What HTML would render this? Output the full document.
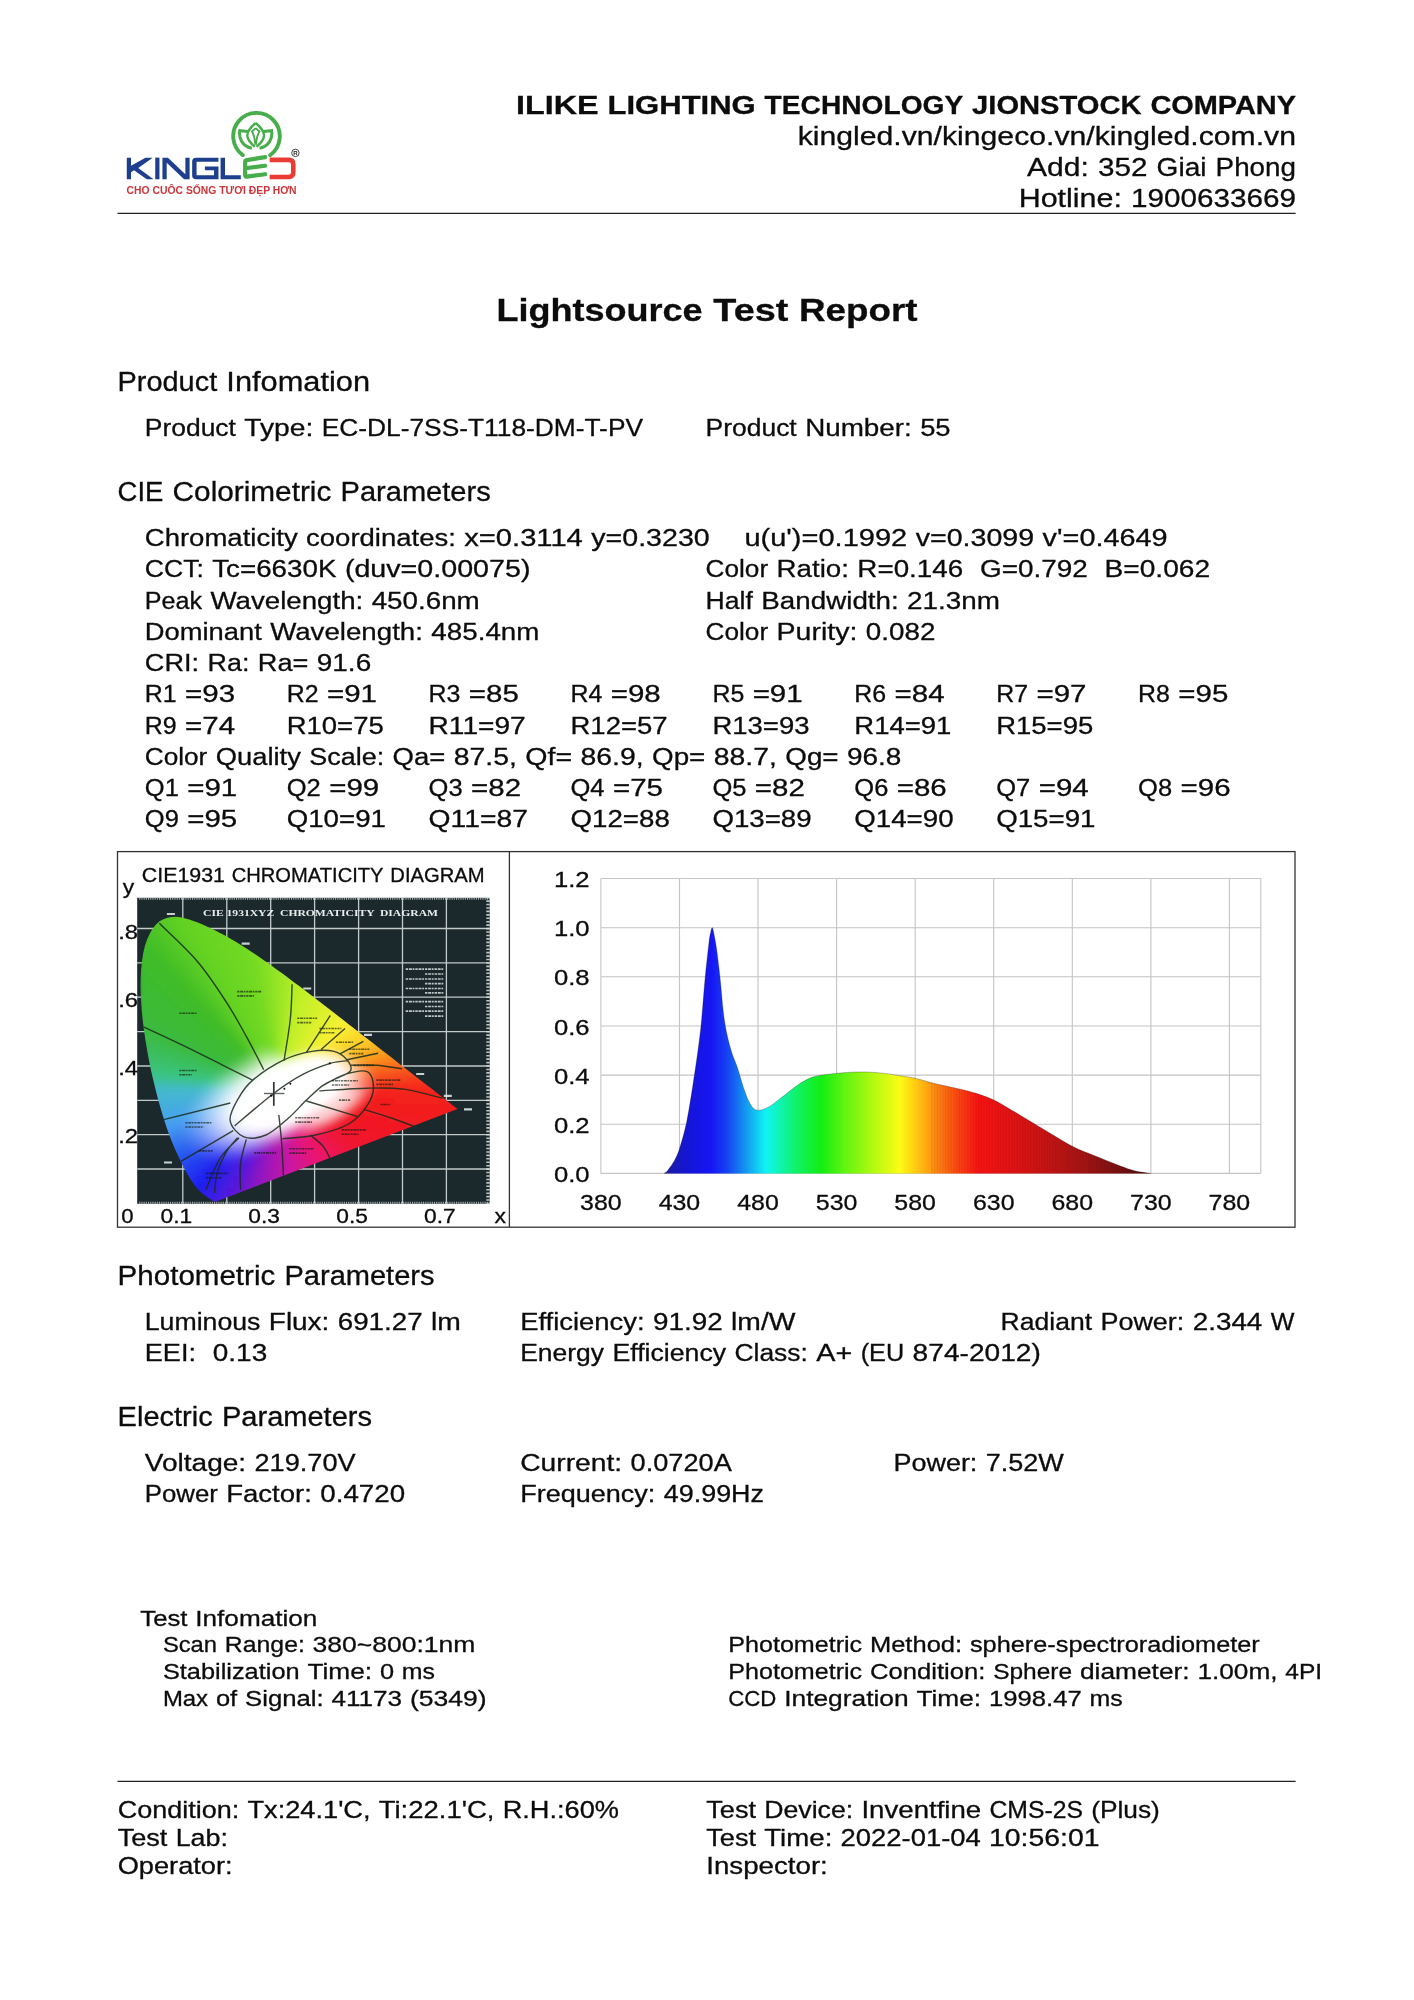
<!DOCTYPE html><html><head><meta charset="utf-8"><title>Lightsource Test Report</title><style>html,body{margin:0;padding:0;background:#fff}svg{display:block;will-change:transform}text{font-family:"Liberation Sans",sans-serif;stroke:#0c0c0c;stroke-width:.3px}</style></head><body>
<svg width="1414" height="2000" viewBox="0 0 1414 2000" fill="#0c0c0c">
<rect width="1414" height="2000" fill="#fff"/>
<polygon points="126.79,157.64 131.04,157.64 131.04,165.70 145.47,157.64 152.68,157.64 138.25,168.00 153.53,179.29 146.74,179.29 134.01,170.37 131.04,172.24 131.04,179.29 126.79,179.29" fill="#1d3f8e"/>
<polygon points="155.23,157.64 159.47,157.64 159.47,179.29 155.23,179.29" fill="#1d3f8e"/>
<polygon points="162.44,157.64 167.96,157.64 185.37,174.19 185.37,157.64 189.61,157.64 189.61,179.29 184.09,179.29 166.69,162.73 166.69,179.29 162.44,179.29" fill="#1d3f8e"/>
<polygon points="220.59,157.64 225.01,157.64 225.01,175.13 240.80,175.13 240.80,179.29 220.59,179.29" fill="#1d3f8e"/>
<path d="M218.47,157.64 L195.98,157.64 Q192.16,157.64 192.16,161.46 L192.16,175.47 Q192.16,179.29 195.98,179.29 L218.47,179.29 L218.47,166.55 L204.89,166.55 L204.89,170.37 L214.06,170.37 L214.06,175.30 L196.57,175.30 L196.57,161.63 L218.47,161.63 Z" fill="#1d3f8e"/>
<path d="M265.20,157.13 L246.88,160.10 Q245.15,160.40 245.15,162.18 L245.15,174.95 Q245.15,176.98 247.13,176.68 L265.20,174.21 M245.25,168.27 L265.20,165.79" stroke="#48ad4b" stroke-width="4.2" stroke-linecap="round" stroke-linejoin="round" fill="none"/>
<path d="M269.65,159.85 L288.96,159.85 Q293.27,159.85 293.27,164.16 L293.27,172.62 Q293.27,176.93 288.96,176.93 L269.65,176.93" stroke="#ea3b35" stroke-width="4.6" fill="none"/>
<path d="M242.8,155.05 A23.3,23.3 0 1 1 270.2,155.05" stroke="#48ad4b" stroke-width="3.9" stroke-linecap="round" fill="none"/>
<path d="M255.67,123.03 C251.78,126.34 247.11,131.00 247.31,135.67 C247.50,140.34 251.78,144.23 254.89,146.76M255.67,123.03 C259.56,126.34 264.23,131.00 264.03,135.67 C263.84,140.34 259.56,144.23 256.45,146.76" stroke="#48ad4b" stroke-width="2.4" stroke-linejoin="miter" fill="none"/>
<path d="M255.67,128.09 L251.98,131.47 C254.12,134.89 254.89,139.56 255.36,144.62M255.67,128.09 L259.37,131.47 C257.23,134.89 256.45,139.56 255.98,144.62" stroke="#48ad4b" stroke-width="1.9" stroke-linejoin="miter" fill="none"/>
<path d="M248.28,131.47 L239.72,130.69 C238.63,138.00 241.86,145.98 251.78,148.31M263.06,131.47 L271.62,130.69 C272.71,138.00 269.48,145.98 259.56,148.31" stroke="#48ad4b" stroke-width="3" stroke-linejoin="miter" fill="none"/>
<circle cx="295.4" cy="152.9" r="3.7" stroke="#333" stroke-width="0.9" fill="none"/>
<text x="293.3" y="155.1" font-size="6" font-weight="bold" fill="#222" style="stroke:none">R</text>
<text x="126.6" y="193.7" font-size="10.3" font-weight="bold" fill="#cc353b" style="stroke:none" textLength="170" lengthAdjust="spacingAndGlyphs">CHO CUÔC SỐNG TƯƠI ĐẸP HƠN</text>
<path d="M117.5,213.3H1295.6M117.5,1781.3H1295.6" stroke="#222" stroke-width="1.3"/>
<text y="114.00" font-size="26.45" font-weight="bold"><tspan x="516.13" textLength="82.54" lengthAdjust="spacingAndGlyphs">ILIKE</tspan><tspan x="607.53" textLength="148.24" lengthAdjust="spacingAndGlyphs">LIGHTING</tspan><tspan x="764.64" textLength="198.57" lengthAdjust="spacingAndGlyphs">TECHNOLOGY</tspan><tspan x="972.08" textLength="169.45" lengthAdjust="spacingAndGlyphs">JIONSTOCK</tspan><tspan x="1150.40" textLength="145.60" lengthAdjust="spacingAndGlyphs">COMPANY</tspan></text>
<text y="145.30" font-size="26.58"><tspan x="797.73" textLength="498.27" lengthAdjust="spacingAndGlyphs">kingled.vn/kingeco.vn/kingled.com.vn</tspan></text>
<text y="176.00" font-size="26.58"><tspan x="1027.08" textLength="61.82" lengthAdjust="spacingAndGlyphs">Add:</tspan><tspan x="1098.02" textLength="49.47" lengthAdjust="spacingAndGlyphs">352</tspan><tspan x="1156.63" textLength="49.89" lengthAdjust="spacingAndGlyphs">Giai</tspan><tspan x="1215.64" textLength="80.36" lengthAdjust="spacingAndGlyphs">Phong</tspan></text>
<text y="206.80" font-size="26.58"><tspan x="1018.68" textLength="103.28" lengthAdjust="spacingAndGlyphs">Hotline:</tspan><tspan x="1131.09" textLength="164.91" lengthAdjust="spacingAndGlyphs">1900633669</tspan></text>
<text y="321.10" font-size="32.08" font-weight="bold"><tspan x="496.49" textLength="206.17" lengthAdjust="spacingAndGlyphs">Lightsource</tspan><tspan x="713.37" textLength="74.96" lengthAdjust="spacingAndGlyphs">Test</tspan><tspan x="799.04" textLength="118.47" lengthAdjust="spacingAndGlyphs">Report</tspan></text>
<text y="391.40" font-size="26.80"><tspan x="117.60" textLength="99.58" lengthAdjust="spacingAndGlyphs">Product</tspan><tspan x="226.38" textLength="143.69" lengthAdjust="spacingAndGlyphs">Infomation</tspan></text>
<text y="436.30" font-size="24.53"><tspan x="144.80" textLength="91.13" lengthAdjust="spacingAndGlyphs">Product</tspan><tspan x="244.35" textLength="68.94" lengthAdjust="spacingAndGlyphs">Type:</tspan><tspan x="321.71" textLength="321.31" lengthAdjust="spacingAndGlyphs">EC-DL-7SS-T118-DM-T-PV</tspan></text>
<text y="436.30" font-size="24.53"><tspan x="705.60" textLength="91.13" lengthAdjust="spacingAndGlyphs">Product</tspan><tspan x="805.15" textLength="106.58" lengthAdjust="spacingAndGlyphs">Number:</tspan><tspan x="920.16" textLength="30.44" lengthAdjust="spacingAndGlyphs">55</tspan></text>
<text y="501.10" font-size="26.80"><tspan x="117.60" textLength="45.79" lengthAdjust="spacingAndGlyphs">CIE</tspan><tspan x="172.59" textLength="158.78" lengthAdjust="spacingAndGlyphs">Colorimetric</tspan><tspan x="340.58" textLength="150.07" lengthAdjust="spacingAndGlyphs">Parameters</tspan></text>
<text y="546.20" font-size="24.53"><tspan x="144.80" textLength="152.86" lengthAdjust="spacingAndGlyphs">Chromaticity</tspan><tspan x="306.09" textLength="149.75" lengthAdjust="spacingAndGlyphs">coordinates:</tspan><tspan x="464.27" textLength="118.55" lengthAdjust="spacingAndGlyphs">x=0.3114</tspan><tspan x="591.24" textLength="118.55" lengthAdjust="spacingAndGlyphs">y=0.3230</tspan></text>
<text y="546.20" font-size="24.53"><tspan x="744.40" textLength="162.84" lengthAdjust="spacingAndGlyphs">u(u')=0.1992</tspan><tspan x="915.67" textLength="118.55" lengthAdjust="spacingAndGlyphs">v=0.3099</tspan><tspan x="1042.64" textLength="124.99" lengthAdjust="spacingAndGlyphs">v'=0.4649</tspan></text>
<text y="577.45" font-size="24.53"><tspan x="144.80" textLength="59.01" lengthAdjust="spacingAndGlyphs">CCT:</tspan><tspan x="212.23" textLength="124.24" lengthAdjust="spacingAndGlyphs">Tc=6630K</tspan><tspan x="344.90" textLength="185.55" lengthAdjust="spacingAndGlyphs">(duv=0.00075)</tspan></text>
<text y="577.45" font-size="24.53"><tspan x="705.60" textLength="62.53" lengthAdjust="spacingAndGlyphs">Color</tspan><tspan x="776.55" textLength="72.39" lengthAdjust="spacingAndGlyphs">Ratio:</tspan><tspan x="857.36" textLength="105.79" lengthAdjust="spacingAndGlyphs">R=0.146</tspan><tspan x="980.01" textLength="107.71" lengthAdjust="spacingAndGlyphs">G=0.792</tspan><tspan x="1104.56" textLength="105.58" lengthAdjust="spacingAndGlyphs">B=0.062</tspan></text>
<text y="608.70" font-size="24.53"><tspan x="144.80" textLength="57.24" lengthAdjust="spacingAndGlyphs">Peak</tspan><tspan x="210.46" textLength="152.79" lengthAdjust="spacingAndGlyphs">Wavelength:</tspan><tspan x="371.68" textLength="108.02" lengthAdjust="spacingAndGlyphs">450.6nm</tspan></text>
<text y="608.70" font-size="24.53"><tspan x="705.60" textLength="47.33" lengthAdjust="spacingAndGlyphs">Half</tspan><tspan x="761.36" textLength="137.33" lengthAdjust="spacingAndGlyphs">Bandwidth:</tspan><tspan x="907.11" textLength="92.80" lengthAdjust="spacingAndGlyphs">21.3nm</tspan></text>
<text y="639.95" font-size="24.53"><tspan x="144.80" textLength="116.92" lengthAdjust="spacingAndGlyphs">Dominant</tspan><tspan x="270.15" textLength="152.79" lengthAdjust="spacingAndGlyphs">Wavelength:</tspan><tspan x="431.36" textLength="108.02" lengthAdjust="spacingAndGlyphs">485.4nm</tspan></text>
<text y="639.95" font-size="24.53"><tspan x="705.60" textLength="62.53" lengthAdjust="spacingAndGlyphs">Color</tspan><tspan x="776.55" textLength="80.81" lengthAdjust="spacingAndGlyphs">Purity:</tspan><tspan x="865.79" textLength="69.59" lengthAdjust="spacingAndGlyphs">0.082</tspan></text>
<text y="671.20" font-size="24.53"><tspan x="144.80" textLength="54.27" lengthAdjust="spacingAndGlyphs">CRI:</tspan><tspan x="207.50" textLength="41.88" lengthAdjust="spacingAndGlyphs">Ra:</tspan><tspan x="257.80" textLength="50.59" lengthAdjust="spacingAndGlyphs">Ra=</tspan><tspan x="316.81" textLength="54.37" lengthAdjust="spacingAndGlyphs">91.6</tspan></text>
<text y="702.45" font-size="24.53"><tspan x="144.80" textLength="31.85" lengthAdjust="spacingAndGlyphs">R1</tspan><tspan x="185.07" textLength="50.01" lengthAdjust="spacingAndGlyphs">=93</tspan></text>
<text y="702.45" font-size="24.53"><tspan x="286.70" textLength="31.85" lengthAdjust="spacingAndGlyphs">R2</tspan><tspan x="326.97" textLength="50.01" lengthAdjust="spacingAndGlyphs">=91</tspan></text>
<text y="702.45" font-size="24.53"><tspan x="428.60" textLength="31.85" lengthAdjust="spacingAndGlyphs">R3</tspan><tspan x="468.87" textLength="50.01" lengthAdjust="spacingAndGlyphs">=85</tspan></text>
<text y="702.45" font-size="24.53"><tspan x="570.50" textLength="31.85" lengthAdjust="spacingAndGlyphs">R4</tspan><tspan x="610.77" textLength="50.01" lengthAdjust="spacingAndGlyphs">=98</tspan></text>
<text y="702.45" font-size="24.53"><tspan x="712.40" textLength="31.85" lengthAdjust="spacingAndGlyphs">R5</tspan><tspan x="752.67" textLength="50.01" lengthAdjust="spacingAndGlyphs">=91</tspan></text>
<text y="702.45" font-size="24.53"><tspan x="854.30" textLength="31.85" lengthAdjust="spacingAndGlyphs">R6</tspan><tspan x="894.57" textLength="50.01" lengthAdjust="spacingAndGlyphs">=84</tspan></text>
<text y="702.45" font-size="24.53"><tspan x="996.20" textLength="31.85" lengthAdjust="spacingAndGlyphs">R7</tspan><tspan x="1036.47" textLength="50.01" lengthAdjust="spacingAndGlyphs">=97</tspan></text>
<text y="702.45" font-size="24.53"><tspan x="1138.10" textLength="31.85" lengthAdjust="spacingAndGlyphs">R8</tspan><tspan x="1178.37" textLength="50.01" lengthAdjust="spacingAndGlyphs">=95</tspan></text>
<text y="733.70" font-size="24.53"><tspan x="144.80" textLength="31.85" lengthAdjust="spacingAndGlyphs">R9</tspan><tspan x="185.07" textLength="50.01" lengthAdjust="spacingAndGlyphs">=74</tspan></text>
<text y="733.70" font-size="24.53"><tspan x="286.70" textLength="97.08" lengthAdjust="spacingAndGlyphs">R10=75</tspan></text>
<text y="733.70" font-size="24.53"><tspan x="428.60" textLength="97.08" lengthAdjust="spacingAndGlyphs">R11=97</tspan></text>
<text y="733.70" font-size="24.53"><tspan x="570.50" textLength="97.08" lengthAdjust="spacingAndGlyphs">R12=57</tspan></text>
<text y="733.70" font-size="24.53"><tspan x="712.40" textLength="97.08" lengthAdjust="spacingAndGlyphs">R13=93</tspan></text>
<text y="733.70" font-size="24.53"><tspan x="854.30" textLength="97.08" lengthAdjust="spacingAndGlyphs">R14=91</tspan></text>
<text y="733.70" font-size="24.53"><tspan x="996.20" textLength="97.08" lengthAdjust="spacingAndGlyphs">R15=95</tspan></text>
<text y="764.95" font-size="24.53"><tspan x="144.80" textLength="62.53" lengthAdjust="spacingAndGlyphs">Color</tspan><tspan x="215.75" textLength="85.07" lengthAdjust="spacingAndGlyphs">Quality</tspan><tspan x="309.25" textLength="74.90" lengthAdjust="spacingAndGlyphs">Scale:</tspan><tspan x="392.57" textLength="52.79" lengthAdjust="spacingAndGlyphs">Qa=</tspan><tspan x="453.78" textLength="63.08" lengthAdjust="spacingAndGlyphs">87.5,</tspan><tspan x="525.29" textLength="46.83" lengthAdjust="spacingAndGlyphs">Qf=</tspan><tspan x="580.54" textLength="63.08" lengthAdjust="spacingAndGlyphs">86.9,</tspan><tspan x="652.04" textLength="53.32" lengthAdjust="spacingAndGlyphs">Qp=</tspan><tspan x="713.78" textLength="63.08" lengthAdjust="spacingAndGlyphs">88.7,</tspan><tspan x="785.29" textLength="53.32" lengthAdjust="spacingAndGlyphs">Qg=</tspan><tspan x="847.03" textLength="54.37" lengthAdjust="spacingAndGlyphs">96.8</tspan></text>
<text y="796.20" font-size="24.53"><tspan x="144.80" textLength="34.05" lengthAdjust="spacingAndGlyphs">Q1</tspan><tspan x="187.28" textLength="50.01" lengthAdjust="spacingAndGlyphs">=91</tspan></text>
<text y="796.20" font-size="24.53"><tspan x="286.70" textLength="34.05" lengthAdjust="spacingAndGlyphs">Q2</tspan><tspan x="329.18" textLength="50.01" lengthAdjust="spacingAndGlyphs">=99</tspan></text>
<text y="796.20" font-size="24.53"><tspan x="428.60" textLength="34.05" lengthAdjust="spacingAndGlyphs">Q3</tspan><tspan x="471.08" textLength="50.01" lengthAdjust="spacingAndGlyphs">=82</tspan></text>
<text y="796.20" font-size="24.53"><tspan x="570.50" textLength="34.05" lengthAdjust="spacingAndGlyphs">Q4</tspan><tspan x="612.98" textLength="50.01" lengthAdjust="spacingAndGlyphs">=75</tspan></text>
<text y="796.20" font-size="24.53"><tspan x="712.40" textLength="34.05" lengthAdjust="spacingAndGlyphs">Q5</tspan><tspan x="754.88" textLength="50.01" lengthAdjust="spacingAndGlyphs">=82</tspan></text>
<text y="796.20" font-size="24.53"><tspan x="854.30" textLength="34.05" lengthAdjust="spacingAndGlyphs">Q6</tspan><tspan x="896.78" textLength="50.01" lengthAdjust="spacingAndGlyphs">=86</tspan></text>
<text y="796.20" font-size="24.53"><tspan x="996.20" textLength="34.05" lengthAdjust="spacingAndGlyphs">Q7</tspan><tspan x="1038.68" textLength="50.01" lengthAdjust="spacingAndGlyphs">=94</tspan></text>
<text y="796.20" font-size="24.53"><tspan x="1138.10" textLength="34.05" lengthAdjust="spacingAndGlyphs">Q8</tspan><tspan x="1180.58" textLength="50.01" lengthAdjust="spacingAndGlyphs">=96</tspan></text>
<text y="827.45" font-size="24.53"><tspan x="144.80" textLength="34.05" lengthAdjust="spacingAndGlyphs">Q9</tspan><tspan x="187.28" textLength="50.01" lengthAdjust="spacingAndGlyphs">=95</tspan></text>
<text y="827.45" font-size="24.53"><tspan x="286.70" textLength="99.29" lengthAdjust="spacingAndGlyphs">Q10=91</tspan></text>
<text y="827.45" font-size="24.53"><tspan x="428.60" textLength="99.29" lengthAdjust="spacingAndGlyphs">Q11=87</tspan></text>
<text y="827.45" font-size="24.53"><tspan x="570.50" textLength="99.29" lengthAdjust="spacingAndGlyphs">Q12=88</tspan></text>
<text y="827.45" font-size="24.53"><tspan x="712.40" textLength="99.29" lengthAdjust="spacingAndGlyphs">Q13=89</tspan></text>
<text y="827.45" font-size="24.53"><tspan x="854.30" textLength="99.29" lengthAdjust="spacingAndGlyphs">Q14=90</tspan></text>
<text y="827.45" font-size="24.53"><tspan x="996.20" textLength="99.29" lengthAdjust="spacingAndGlyphs">Q15=91</tspan></text>
<text y="1285.10" font-size="26.80"><tspan x="117.60" textLength="157.66" lengthAdjust="spacingAndGlyphs">Photometric</tspan><tspan x="284.46" textLength="150.07" lengthAdjust="spacingAndGlyphs">Parameters</tspan></text>
<text y="1329.90" font-size="24.53"><tspan x="144.80" textLength="115.61" lengthAdjust="spacingAndGlyphs">Luminous</tspan><tspan x="268.83" textLength="60.50" lengthAdjust="spacingAndGlyphs">Flux:</tspan><tspan x="337.75" textLength="84.81" lengthAdjust="spacingAndGlyphs">691.27</tspan><tspan x="430.98" textLength="29.84" lengthAdjust="spacingAndGlyphs">lm</tspan></text>
<text y="1329.90" font-size="24.53"><tspan x="520.20" textLength="124.46" lengthAdjust="spacingAndGlyphs">Efficiency:</tspan><tspan x="653.08" textLength="69.59" lengthAdjust="spacingAndGlyphs">91.92</tspan><tspan x="731.10" textLength="64.37" lengthAdjust="spacingAndGlyphs">lm/W</tspan></text>
<text y="1329.90" font-size="24.53"><tspan x="1000.60" textLength="91.44" lengthAdjust="spacingAndGlyphs">Radiant</tspan><tspan x="1100.46" textLength="83.87" lengthAdjust="spacingAndGlyphs">Power:</tspan><tspan x="1192.76" textLength="69.59" lengthAdjust="spacingAndGlyphs">2.344</tspan><tspan x="1270.77" textLength="23.67" lengthAdjust="spacingAndGlyphs">W</tspan></text>
<text y="1361.20" font-size="24.53"><tspan x="144.80" textLength="51.19" lengthAdjust="spacingAndGlyphs">EEI:</tspan><tspan x="212.83" textLength="54.37" lengthAdjust="spacingAndGlyphs">0.13</tspan></text>
<text y="1361.20" font-size="24.53"><tspan x="520.20" textLength="83.83" lengthAdjust="spacingAndGlyphs">Energy</tspan><tspan x="612.45" textLength="113.60" lengthAdjust="spacingAndGlyphs">Efficiency</tspan><tspan x="734.47" textLength="73.44" lengthAdjust="spacingAndGlyphs">Class:</tspan><tspan x="816.33" textLength="35.94" lengthAdjust="spacingAndGlyphs">A+</tspan><tspan x="860.70" textLength="43.50" lengthAdjust="spacingAndGlyphs">(EU</tspan><tspan x="912.63" textLength="128.26" lengthAdjust="spacingAndGlyphs">874-2012)</tspan></text>
<text y="1426.40" font-size="26.80"><tspan x="117.60" textLength="95.16" lengthAdjust="spacingAndGlyphs">Electric</tspan><tspan x="221.96" textLength="150.07" lengthAdjust="spacingAndGlyphs">Parameters</tspan></text>
<text y="1471.10" font-size="24.53"><tspan x="144.80" textLength="101.30" lengthAdjust="spacingAndGlyphs">Voltage:</tspan><tspan x="254.52" textLength="101.18" lengthAdjust="spacingAndGlyphs">219.70V</tspan></text>
<text y="1471.10" font-size="24.53"><tspan x="520.20" textLength="101.99" lengthAdjust="spacingAndGlyphs">Current:</tspan><tspan x="630.61" textLength="101.18" lengthAdjust="spacingAndGlyphs">0.0720A</tspan></text>
<text y="1471.10" font-size="24.53"><tspan x="893.50" textLength="83.87" lengthAdjust="spacingAndGlyphs">Power:</tspan><tspan x="985.80" textLength="78.04" lengthAdjust="spacingAndGlyphs">7.52W</tspan></text>
<text y="1502.30" font-size="24.53"><tspan x="144.80" textLength="73.01" lengthAdjust="spacingAndGlyphs">Power</tspan><tspan x="226.23" textLength="85.65" lengthAdjust="spacingAndGlyphs">Factor:</tspan><tspan x="320.30" textLength="84.81" lengthAdjust="spacingAndGlyphs">0.4720</tspan></text>
<text y="1502.30" font-size="24.53"><tspan x="520.20" textLength="135.20" lengthAdjust="spacingAndGlyphs">Frequency:</tspan><tspan x="663.83" textLength="100.12" lengthAdjust="spacingAndGlyphs">49.99Hz</tspan></text>
<text y="1626.00" font-size="22.75"><tspan x="140.30" textLength="47.22" lengthAdjust="spacingAndGlyphs">Test</tspan><tspan x="195.33" textLength="121.99" lengthAdjust="spacingAndGlyphs">Infomation</tspan></text>
<text y="1652.40" font-size="22.75"><tspan x="162.90" textLength="54.15" lengthAdjust="spacingAndGlyphs">Scan</tspan><tspan x="224.86" textLength="79.96" lengthAdjust="spacingAndGlyphs">Range:</tspan><tspan x="312.64" textLength="162.73" lengthAdjust="spacingAndGlyphs">380~800:1nm</tspan></text>
<text y="1679.10" font-size="22.75"><tspan x="162.90" textLength="136.71" lengthAdjust="spacingAndGlyphs">Stabilization</tspan><tspan x="307.42" textLength="64.67" lengthAdjust="spacingAndGlyphs">Time:</tspan><tspan x="379.90" textLength="14.12" lengthAdjust="spacingAndGlyphs">0</tspan><tspan x="401.84" textLength="33.17" lengthAdjust="spacingAndGlyphs">ms</tspan></text>
<text y="1705.80" font-size="22.75"><tspan x="162.90" textLength="45.20" lengthAdjust="spacingAndGlyphs">Max</tspan><tspan x="215.91" textLength="21.29" lengthAdjust="spacingAndGlyphs">of</tspan><tspan x="245.02" textLength="78.65" lengthAdjust="spacingAndGlyphs">Signal:</tspan><tspan x="331.49" textLength="70.60" lengthAdjust="spacingAndGlyphs">41173</tspan><tspan x="409.90" textLength="76.63" lengthAdjust="spacingAndGlyphs">(5349)</tspan></text>
<text y="1652.40" font-size="22.75"><tspan x="728.30" textLength="133.84" lengthAdjust="spacingAndGlyphs">Photometric</tspan><tspan x="869.96" textLength="92.13" lengthAdjust="spacingAndGlyphs">Method:</tspan><tspan x="969.90" textLength="289.87" lengthAdjust="spacingAndGlyphs">sphere-spectroradiometer</tspan></text>
<text y="1679.10" font-size="22.75"><tspan x="728.30" textLength="133.84" lengthAdjust="spacingAndGlyphs">Photometric</tspan><tspan x="869.96" textLength="115.37" lengthAdjust="spacingAndGlyphs">Condition:</tspan><tspan x="993.15" textLength="79.01" lengthAdjust="spacingAndGlyphs">Sphere</tspan><tspan x="1079.97" textLength="109.62" lengthAdjust="spacingAndGlyphs">diameter:</tspan><tspan x="1197.41" textLength="80.12" lengthAdjust="spacingAndGlyphs">1.00m,</tspan><tspan x="1285.34" textLength="36.85" lengthAdjust="spacingAndGlyphs">4PI</tspan></text>
<text y="1705.80" font-size="22.75"><tspan x="728.30" textLength="48.11" lengthAdjust="spacingAndGlyphs">CCD</tspan><tspan x="784.22" textLength="124.39" lengthAdjust="spacingAndGlyphs">Integration</tspan><tspan x="916.42" textLength="64.67" lengthAdjust="spacingAndGlyphs">Time:</tspan><tspan x="988.91" textLength="92.80" lengthAdjust="spacingAndGlyphs">1998.47</tspan><tspan x="1089.52" textLength="33.17" lengthAdjust="spacingAndGlyphs">ms</tspan></text>
<text y="1818.30" font-size="23.96"><tspan x="117.70" textLength="121.51" lengthAdjust="spacingAndGlyphs">Condition:</tspan><tspan x="247.44" textLength="123.10" lengthAdjust="spacingAndGlyphs">Tx:24.1'C,</tspan><tspan x="378.76" textLength="115.66" lengthAdjust="spacingAndGlyphs">Ti:22.1'C,</tspan><tspan x="502.65" textLength="116.34" lengthAdjust="spacingAndGlyphs">R.H.:60%</tspan></text>
<text y="1846.30" font-size="23.96"><tspan x="117.70" textLength="49.73" lengthAdjust="spacingAndGlyphs">Test</tspan><tspan x="175.66" textLength="52.25" lengthAdjust="spacingAndGlyphs">Lab:</tspan></text>
<text y="1874.30" font-size="23.96"><tspan x="117.70" textLength="114.94" lengthAdjust="spacingAndGlyphs">Operator:</tspan></text>
<text y="1818.30" font-size="23.96"><tspan x="706.30" textLength="49.73" lengthAdjust="spacingAndGlyphs">Test</tspan><tspan x="764.26" textLength="88.94" lengthAdjust="spacingAndGlyphs">Device:</tspan><tspan x="861.43" textLength="119.80" lengthAdjust="spacingAndGlyphs">Inventfine</tspan><tspan x="989.46" textLength="93.50" lengthAdjust="spacingAndGlyphs">CMS-2S</tspan><tspan x="1091.18" textLength="68.71" lengthAdjust="spacingAndGlyphs">(Plus)</tspan></text>
<text y="1846.30" font-size="23.96"><tspan x="706.30" textLength="49.73" lengthAdjust="spacingAndGlyphs">Test</tspan><tspan x="764.26" textLength="68.11" lengthAdjust="spacingAndGlyphs">Time:</tspan><tspan x="840.59" textLength="140.19" lengthAdjust="spacingAndGlyphs">2022-01-04</tspan><tspan x="989.01" textLength="110.45" lengthAdjust="spacingAndGlyphs">10:56:01</tspan></text>
<text y="1874.30" font-size="23.96"><tspan x="706.30" textLength="121.51" lengthAdjust="spacingAndGlyphs">Inspector:</tspan></text>
<rect x="117.5" y="851.6" width="1177.5" height="375.6" fill="none" stroke="#333" stroke-width="1.3"/>
<path d="M509.4,851.6V1227.2" stroke="#333" stroke-width="1.3"/>
<rect x="137.2" y="897.8" width="352.5" height="306.0" fill="#1b282c"/>
<path d="M182.8,897.8V1203.8M226.8,897.8V1203.8M270.7,897.8V1203.8M314.6,897.8V1203.8M358.6,897.8V1203.8M402.5,897.8V1203.8M446.4,897.8V1203.8M137.2,1169.0H489.7M137.2,1134.7H489.7M137.2,1100.3H489.7M137.2,1066.0H489.7M137.2,1031.6H489.7M137.2,997.2H489.7M137.2,962.9H489.7M137.2,928.5H489.7" stroke="#dfe6e6" stroke-width="1.3" fill="none" opacity="0.85"/>
<path d="M139.2,898.8H489.7M139.2,1202.7H489.7" stroke="#d8dede" stroke-width="2" stroke-dasharray="1.1 1.1" opacity="0.75"/>
<path d="M488.0,896.88V1203.8" stroke="#dde3e3" stroke-width="3.4" stroke-dasharray="1.6 1.836" opacity="0.85"/>
<text x="203" y="915.5" style="font-family:Liberation Serif,serif;stroke:none" font-weight="bold" font-size="9" fill="#e8eeee" textLength="235" lengthAdjust="spacingAndGlyphs" xml:space="preserve">CIE 1931XYZ  CHROMATICITY  DIAGRAM</text>
<clipPath id="loc"><path d="M215.4,1201.7 L215.3,1201.7 L215.3,1201.7 L215.2,1201.7 L215.0,1201.8 L214.9,1201.7 L214.7,1201.7 L214.4,1201.7 L214.2,1201.6 L214.0,1201.5 L213.7,1201.4 L213.4,1201.2 L213.1,1201.0 L212.7,1200.8 L212.3,1200.4 L211.7,1200.1 L211.1,1199.7 L210.3,1199.1 L209.4,1198.5 L208.5,1197.9 L207.7,1197.3 L207.0,1196.9 L206.4,1196.5 L205.9,1196.1 L205.2,1195.6 L204.5,1195.1 L203.8,1194.5 L203.0,1193.9 L202.2,1193.2 L201.3,1192.5 L200.4,1191.7 L199.5,1190.8 L198.4,1189.7 L197.3,1188.4 L196.1,1187.0 L194.8,1185.4 L193.4,1183.5 L192.0,1181.5 L190.4,1179.2 L188.8,1176.6 L187.0,1173.6 L185.2,1170.2 L183.3,1166.5 L181.2,1162.4 L179.0,1157.8 L176.7,1152.7 L174.2,1147.2 L171.6,1141.1 L169.1,1134.4 L166.5,1127.2 L163.9,1119.3 L161.4,1110.9 L158.8,1102.0 L156.3,1092.6 L153.8,1082.5 L151.4,1072.1 L149.2,1061.6 L147.2,1050.9 L145.4,1040.0 L143.8,1029.0 L142.5,1018.4 L141.5,1008.0 L140.9,997.8 L140.5,987.8 L140.6,978.4 L141.1,969.4 L142.0,960.8 L143.3,952.8 L145.0,945.6 L147.2,939.2 L149.8,933.4 L152.8,928.5 L156.0,924.4 L159.5,921.3 L163.4,919.2 L167.4,917.7 L171.5,916.9 L175.8,916.7 L180.2,917.3 L184.6,918.3 L189.1,919.5 L193.5,920.9 L198.0,922.6 L202.5,924.6 L206.9,926.5 L211.1,928.5 L215.4,930.5 L219.5,932.7 L223.6,934.8 L227.7,937.1 L231.8,939.4 L235.8,941.8 L239.8,944.2 L243.8,946.7 L247.7,949.3 L251.7,951.9 L255.7,954.5 L259.6,957.2 L263.5,960.0 L267.5,962.7 L271.4,965.5 L275.3,968.4 L279.2,971.2 L283.2,974.1 L287.1,977.0 L291.0,979.9 L294.9,982.9 L298.9,985.8 L302.8,988.8 L306.7,991.8 L310.6,994.8 L314.5,997.8 L318.4,1000.8 L322.3,1003.8 L326.2,1006.8 L330.1,1009.8 L334.0,1012.8 L337.8,1015.8 L341.7,1018.8 L345.5,1021.7 L349.2,1024.7 L353.0,1027.6 L356.7,1030.5 L360.4,1033.4 L364.0,1036.2 L367.7,1039.0 L371.2,1041.8 L374.8,1044.6 L378.2,1047.3 L381.7,1049.9 L385.0,1052.6 L388.3,1055.1 L391.6,1057.6 L394.7,1060.1 L397.8,1062.5 L400.9,1064.9 L403.8,1067.2 L406.4,1069.2 L408.7,1071.1 L411.3,1073.0 L414.3,1075.4 L418.3,1078.5 L422.8,1082.0 L427.4,1085.5 L431.4,1088.6 L434.7,1091.2 L437.6,1093.5 L440.3,1095.6 L442.7,1097.5 L444.8,1099.1 L446.7,1100.6 L448.3,1101.9 L449.9,1103.1 L451.3,1104.2 L452.6,1105.2 L453.7,1106.1 L454.8,1106.9 L455.6,1107.6 L456.4,1108.1 L457.0,1108.6 L457.4,1108.9Z"/></clipPath>
<filter id="bl" x="-5%" y="-5%" width="110%" height="110%"><feGaussianBlur stdDeviation="3.2"/></filter>
<g clip-path="url(#loc)"><g filter="url(#bl)">
<path fill="#57ca25" d="M155 912h7v7h-7z"/><path fill="#5acc24" d="M161 912h7v7h-7z"/><path fill="#5ece24" d="M167 912h7v7h-7z"/><path fill="#62d123" d="M173 912h7v7h-7z"/><path fill="#65d223" d="M179 912h7v7h-7z"/><path fill="#66d323" d="M185 912h7v7h-7z"/><path fill="#67d423" d="M191 912h7v7h-7z"/><path fill="#51c626" d="M149 918h7v7h-7z"/><path fill="#54c825" d="M155 918h7v7h-7z"/><path fill="#58ca25" d="M161 918h7v7h-7z"/><path fill="#5bcd24" d="M167 918h7v7h-7z"/><path fill="#5fcf24" d="M173 918h7v7h-7z"/><path fill="#63d123" d="M179 918h7v7h-7z"/><path fill="#65d323" d="M185 918h7v7h-7z"/><path fill="#67d323" d="M191 918h7v7h-7z"/><path fill="#68d423" d="M197 918h7v7h-7z"/><path fill="#6ad523" d="M203 918h7v7h-7z"/><path fill="#6bd623" d="M209 918h7v7h-7z"/><path fill="#4ac227" d="M143 924h7v7h-7z"/><path fill="#4ec526" d="M149 924h7v7h-7z"/><path fill="#51c726" d="M155 924h7v7h-7z"/><path fill="#55c925" d="M161 924h7v7h-7z"/><path fill="#59cb25" d="M167 924h7v7h-7z"/><path fill="#5dce24" d="M173 924h7v7h-7z"/><path fill="#61d023" d="M179 924h7v7h-7z"/><path fill="#64d223" d="M185 924h7v7h-7z"/><path fill="#66d323" d="M191 924h7v7h-7z"/><path fill="#67d423" d="M197 924h7v7h-7z"/><path fill="#69d523" d="M203 924h7v7h-7z"/><path fill="#6ad523" d="M209 924h7v7h-7z"/><path fill="#6cd623" d="M215 924h7v7h-7z"/><path fill="#6ed723" d="M221 924h7v7h-7z"/><path fill="#47c127" d="M143 930h7v7h-7z"/><path fill="#4bc327" d="M149 930h7v7h-7z"/><path fill="#4ec526" d="M155 930h7v7h-7z"/><path fill="#52c725" d="M161 930h7v7h-7z"/><path fill="#56ca25" d="M167 930h7v7h-7z"/><path fill="#5acc24" d="M173 930h7v7h-7z"/><path fill="#5ecf24" d="M179 930h7v7h-7z"/><path fill="#63d123" d="M185 930h7v7h-7z"/><path fill="#65d323" d="M191 930h7v7h-7z"/><path fill="#66d323" d="M197 930h7v7h-7z"/><path fill="#68d423" d="M203 930h7v7h-7z"/><path fill="#6ad523" d="M209 930h7v7h-7z"/><path fill="#6bd623" d="M215 930h7v7h-7z"/><path fill="#6dd723" d="M221 930h7v7h-7z"/><path fill="#6fd823" d="M227 930h7v7h-7z"/><path fill="#70d923" d="M233 930h7v7h-7z"/><path fill="#41bc28" d="M137 936h7v7h-7z"/><path fill="#44bf27" d="M143 936h7v7h-7z"/><path fill="#48c127" d="M149 936h7v7h-7z"/><path fill="#4bc326" d="M155 936h7v7h-7z"/><path fill="#4fc526" d="M161 936h7v7h-7z"/><path fill="#53c825" d="M167 936h7v7h-7z"/><path fill="#57ca25" d="M173 936h7v7h-7z"/><path fill="#5ccd24" d="M179 936h7v7h-7z"/><path fill="#60d024" d="M185 936h7v7h-7z"/><path fill="#64d223" d="M191 936h7v7h-7z"/><path fill="#66d323" d="M197 936h7v7h-7z"/><path fill="#67d423" d="M203 936h7v7h-7z"/><path fill="#69d523" d="M209 936h7v7h-7z"/><path fill="#6bd523" d="M215 936h7v7h-7z"/><path fill="#6cd623" d="M221 936h7v7h-7z"/><path fill="#6ed723" d="M227 936h7v7h-7z"/><path fill="#70d823" d="M233 936h7v7h-7z"/><path fill="#72d923" d="M239 936h7v7h-7z"/><path fill="#40bc29" d="M137 942h7v7h-7z"/><path fill="#41bc28" d="M143 942h7v7h-7z"/><path fill="#44bf27" d="M149 942h7v7h-7z"/><path fill="#48c127" d="M155 942h7v7h-7z"/><path fill="#4cc326" d="M161 942h7v7h-7z"/><path fill="#50c626" d="M167 942h7v7h-7z"/><path fill="#54c925" d="M173 942h7v7h-7z"/><path fill="#59cb25" d="M179 942h7v7h-7z"/><path fill="#5dce24" d="M185 942h7v7h-7z"/><path fill="#62d123" d="M191 942h7v7h-7z"/><path fill="#65d223" d="M197 942h7v7h-7z"/><path fill="#66d323" d="M203 942h7v7h-7z"/><path fill="#68d423" d="M209 942h7v7h-7z"/><path fill="#6ad523" d="M215 942h7v7h-7z"/><path fill="#6cd623" d="M221 942h7v7h-7z"/><path fill="#6dd723" d="M227 942h7v7h-7z"/><path fill="#6fd823" d="M233 942h7v7h-7z"/><path fill="#71d923" d="M239 942h7v7h-7z"/><path fill="#73da23" d="M245 942h7v7h-7z"/><path fill="#7adc23" d="M251 942h7v7h-7z"/><path fill="#3fbc2a" d="M137 948h7v7h-7z"/><path fill="#40bc29" d="M143 948h7v7h-7z"/><path fill="#41bd28" d="M149 948h7v7h-7z"/><path fill="#45bf27" d="M155 948h7v7h-7z"/><path fill="#49c127" d="M161 948h7v7h-7z"/><path fill="#4dc426" d="M167 948h7v7h-7z"/><path fill="#51c726" d="M173 948h7v7h-7z"/><path fill="#56c925" d="M179 948h7v7h-7z"/><path fill="#5acc24" d="M185 948h7v7h-7z"/><path fill="#5fcf24" d="M191 948h7v7h-7z"/><path fill="#64d223" d="M197 948h7v7h-7z"/><path fill="#66d323" d="M203 948h7v7h-7z"/><path fill="#67d423" d="M209 948h7v7h-7z"/><path fill="#69d523" d="M215 948h7v7h-7z"/><path fill="#6bd623" d="M221 948h7v7h-7z"/><path fill="#6dd723" d="M227 948h7v7h-7z"/><path fill="#6fd823" d="M233 948h7v7h-7z"/><path fill="#71d923" d="M239 948h7v7h-7z"/><path fill="#72da23" d="M245 948h7v7h-7z"/><path fill="#79dc23" d="M251 948h7v7h-7z"/><path fill="#81de24" d="M257 948h7v7h-7z"/><path fill="#3fbc2b" d="M137 954h7v7h-7z"/><path fill="#3fbc2a" d="M143 954h7v7h-7z"/><path fill="#40bc29" d="M149 954h7v7h-7z"/><path fill="#41bd28" d="M155 954h7v7h-7z"/><path fill="#45bf27" d="M161 954h7v7h-7z"/><path fill="#4ac227" d="M167 954h7v7h-7z"/><path fill="#4ec526" d="M173 954h7v7h-7z"/><path fill="#53c725" d="M179 954h7v7h-7z"/><path fill="#57ca25" d="M185 954h7v7h-7z"/><path fill="#5ccd24" d="M191 954h7v7h-7z"/><path fill="#61d023" d="M197 954h7v7h-7z"/><path fill="#65d223" d="M203 954h7v7h-7z"/><path fill="#66d323" d="M209 954h7v7h-7z"/><path fill="#68d423" d="M215 954h7v7h-7z"/><path fill="#6ad523" d="M221 954h7v7h-7z"/><path fill="#6cd623" d="M227 954h7v7h-7z"/><path fill="#6ed723" d="M233 954h7v7h-7z"/><path fill="#70d823" d="M239 954h7v7h-7z"/><path fill="#72d923" d="M245 954h7v7h-7z"/><path fill="#77db23" d="M251 954h7v7h-7z"/><path fill="#80de24" d="M257 954h7v7h-7z"/><path fill="#88e024" d="M263 954h7v7h-7z"/><path fill="#90e325" d="M269 954h7v7h-7z"/><path fill="#3fbc2c" d="M137 960h7v7h-7z"/><path fill="#3fbc2b" d="M143 960h7v7h-7z"/><path fill="#3fbc2a" d="M149 960h7v7h-7z"/><path fill="#40bc29" d="M155 960h7v7h-7z"/><path fill="#42bd28" d="M161 960h7v7h-7z"/><path fill="#46c027" d="M167 960h7v7h-7z"/><path fill="#4ac227" d="M173 960h7v7h-7z"/><path fill="#4fc526" d="M179 960h7v7h-7z"/><path fill="#54c825" d="M185 960h7v7h-7z"/><path fill="#59cb25" d="M191 960h7v7h-7z"/><path fill="#5ece24" d="M197 960h7v7h-7z"/><path fill="#63d123" d="M203 960h7v7h-7z"/><path fill="#65d323" d="M209 960h7v7h-7z"/><path fill="#67d423" d="M215 960h7v7h-7z"/><path fill="#69d523" d="M221 960h7v7h-7z"/><path fill="#6bd623" d="M227 960h7v7h-7z"/><path fill="#6dd723" d="M233 960h7v7h-7z"/><path fill="#6fd823" d="M239 960h7v7h-7z"/><path fill="#71d923" d="M245 960h7v7h-7z"/><path fill="#75db23" d="M251 960h7v7h-7z"/><path fill="#7edd24" d="M257 960h7v7h-7z"/><path fill="#86e024" d="M263 960h7v7h-7z"/><path fill="#90e225" d="M269 960h7v7h-7z"/><path fill="#98e525" d="M275 960h7v7h-7z"/><path fill="#3fbc2d" d="M137 966h7v7h-7z"/><path fill="#3fbc2c" d="M143 966h7v7h-7z"/><path fill="#3fbc2b" d="M149 966h7v7h-7z"/><path fill="#3fbc2a" d="M155 966h7v7h-7z"/><path fill="#40bc29" d="M161 966h7v7h-7z"/><path fill="#42bd28" d="M167 966h7v7h-7z"/><path fill="#47c027" d="M173 966h7v7h-7z"/><path fill="#4bc326" d="M179 966h7v7h-7z"/><path fill="#50c626" d="M185 966h7v7h-7z"/><path fill="#55c925" d="M191 966h7v7h-7z"/><path fill="#5acc24" d="M197 966h7v7h-7z"/><path fill="#60cf24" d="M203 966h7v7h-7z"/><path fill="#64d223" d="M209 966h7v7h-7z"/><path fill="#66d323" d="M215 966h7v7h-7z"/><path fill="#68d423" d="M221 966h7v7h-7z"/><path fill="#6ad523" d="M227 966h7v7h-7z"/><path fill="#6dd723" d="M233 966h7v7h-7z"/><path fill="#6fd823" d="M239 966h7v7h-7z"/><path fill="#71d923" d="M245 966h7v7h-7z"/><path fill="#74da23" d="M251 966h7v7h-7z"/><path fill="#7cdd24" d="M257 966h7v7h-7z"/><path fill="#85df24" d="M263 966h7v7h-7z"/><path fill="#8ee225" d="M269 966h7v7h-7z"/><path fill="#98e525" d="M275 966h7v7h-7z"/><path fill="#a1e826" d="M281 966h7v7h-7z"/><path fill="#abea27" d="M287 966h7v7h-7z"/><path fill="#3ebb2f" d="M137 972h7v7h-7z"/><path fill="#3ebb2e" d="M143 972h7v7h-7z"/><path fill="#3fbc2d" d="M149 972h7v7h-7z"/><path fill="#3fbc2b" d="M155 972h7v7h-7z"/><path fill="#3fbc2a" d="M161 972h7v7h-7z"/><path fill="#40bc29" d="M167 972h7v7h-7z"/><path fill="#43be28" d="M173 972h7v7h-7z"/><path fill="#47c127" d="M179 972h7v7h-7z"/><path fill="#4cc426" d="M185 972h7v7h-7z"/><path fill="#51c726" d="M191 972h7v7h-7z"/><path fill="#57ca25" d="M197 972h7v7h-7z"/><path fill="#5ccd24" d="M203 972h7v7h-7z"/><path fill="#62d123" d="M209 972h7v7h-7z"/><path fill="#65d323" d="M215 972h7v7h-7z"/><path fill="#67d423" d="M221 972h7v7h-7z"/><path fill="#6ad523" d="M227 972h7v7h-7z"/><path fill="#6cd623" d="M233 972h7v7h-7z"/><path fill="#6ed723" d="M239 972h7v7h-7z"/><path fill="#70d923" d="M245 972h7v7h-7z"/><path fill="#73da23" d="M251 972h7v7h-7z"/><path fill="#7bdc24" d="M257 972h7v7h-7z"/><path fill="#84df24" d="M263 972h7v7h-7z"/><path fill="#8ee225" d="M269 972h7v7h-7z"/><path fill="#97e525" d="M275 972h7v7h-7z"/><path fill="#a1e726" d="M281 972h7v7h-7z"/><path fill="#abea27" d="M287 972h7v7h-7z"/><path fill="#b4ed27" d="M293 972h7v7h-7z"/><path fill="#3ebb30" d="M137 978h7v7h-7z"/><path fill="#3ebb2f" d="M143 978h7v7h-7z"/><path fill="#3ebb2e" d="M149 978h7v7h-7z"/><path fill="#3fbc2d" d="M155 978h7v7h-7z"/><path fill="#3fbc2b" d="M161 978h7v7h-7z"/><path fill="#3fbc2a" d="M167 978h7v7h-7z"/><path fill="#40bc29" d="M173 978h7v7h-7z"/><path fill="#43be28" d="M179 978h7v7h-7z"/><path fill="#48c127" d="M185 978h7v7h-7z"/><path fill="#4dc426" d="M191 978h7v7h-7z"/><path fill="#53c825" d="M197 978h7v7h-7z"/><path fill="#59cb25" d="M203 978h7v7h-7z"/><path fill="#5fcf24" d="M209 978h7v7h-7z"/><path fill="#64d223" d="M215 978h7v7h-7z"/><path fill="#66d323" d="M221 978h7v7h-7z"/><path fill="#69d423" d="M227 978h7v7h-7z"/><path fill="#6bd623" d="M233 978h7v7h-7z"/><path fill="#6dd723" d="M239 978h7v7h-7z"/><path fill="#70d823" d="M245 978h7v7h-7z"/><path fill="#72da23" d="M251 978h7v7h-7z"/><path fill="#79dc23" d="M257 978h7v7h-7z"/><path fill="#83df24" d="M263 978h7v7h-7z"/><path fill="#8de225" d="M269 978h7v7h-7z"/><path fill="#97e525" d="M275 978h7v7h-7z"/><path fill="#a1e826" d="M281 978h7v7h-7z"/><path fill="#abea27" d="M287 978h7v7h-7z"/><path fill="#b6ee27" d="M293 978h7v7h-7z"/><path fill="#bff028" d="M299 978h7v7h-7z"/><path fill="#3dbb32" d="M137 984h7v7h-7z"/><path fill="#3ebb31" d="M143 984h7v7h-7z"/><path fill="#3ebb2f" d="M149 984h7v7h-7z"/><path fill="#3ebb2e" d="M155 984h7v7h-7z"/><path fill="#3fbc2d" d="M161 984h7v7h-7z"/><path fill="#3fbc2b" d="M167 984h7v7h-7z"/><path fill="#3fbc2a" d="M173 984h7v7h-7z"/><path fill="#40bc28" d="M179 984h7v7h-7z"/><path fill="#44be27" d="M185 984h7v7h-7z"/><path fill="#49c227" d="M191 984h7v7h-7z"/><path fill="#4fc526" d="M197 984h7v7h-7z"/><path fill="#55c925" d="M203 984h7v7h-7z"/><path fill="#5bcc24" d="M209 984h7v7h-7z"/><path fill="#61d023" d="M215 984h7v7h-7z"/><path fill="#65d323" d="M221 984h7v7h-7z"/><path fill="#68d423" d="M227 984h7v7h-7z"/><path fill="#6ad523" d="M233 984h7v7h-7z"/><path fill="#6cd623" d="M239 984h7v7h-7z"/><path fill="#6fd823" d="M245 984h7v7h-7z"/><path fill="#72d923" d="M251 984h7v7h-7z"/><path fill="#77db23" d="M257 984h7v7h-7z"/><path fill="#82de24" d="M263 984h7v7h-7z"/><path fill="#8ce125" d="M269 984h7v7h-7z"/><path fill="#97e525" d="M275 984h7v7h-7z"/><path fill="#a1e826" d="M281 984h7v7h-7z"/><path fill="#aceb27" d="M287 984h7v7h-7z"/><path fill="#b7ee28" d="M293 984h7v7h-7z"/><path fill="#c0f028" d="M299 984h7v7h-7z"/><path fill="#c5f029" d="M305 984h7v7h-7z"/><path fill="#cbf02a" d="M311 984h7v7h-7z"/><path fill="#3dbb33" d="M137 990h7v7h-7z"/><path fill="#3dbb32" d="M143 990h7v7h-7z"/><path fill="#3ebb31" d="M149 990h7v7h-7z"/><path fill="#3ebb30" d="M155 990h7v7h-7z"/><path fill="#3ebb2e" d="M161 990h7v7h-7z"/><path fill="#3fbc2d" d="M167 990h7v7h-7z"/><path fill="#3fbc2c" d="M173 990h7v7h-7z"/><path fill="#3fbc2a" d="M179 990h7v7h-7z"/><path fill="#40bc28" d="M185 990h7v7h-7z"/><path fill="#44bf27" d="M191 990h7v7h-7z"/><path fill="#4ac227" d="M197 990h7v7h-7z"/><path fill="#50c626" d="M203 990h7v7h-7z"/><path fill="#56ca25" d="M209 990h7v7h-7z"/><path fill="#5dce24" d="M215 990h7v7h-7z"/><path fill="#64d223" d="M221 990h7v7h-7z"/><path fill="#66d323" d="M227 990h7v7h-7z"/><path fill="#69d523" d="M233 990h7v7h-7z"/><path fill="#6bd623" d="M239 990h7v7h-7z"/><path fill="#6ed723" d="M245 990h7v7h-7z"/><path fill="#71d923" d="M251 990h7v7h-7z"/><path fill="#75db23" d="M257 990h7v7h-7z"/><path fill="#80de24" d="M263 990h7v7h-7z"/><path fill="#8ce125" d="M269 990h7v7h-7z"/><path fill="#97e425" d="M275 990h7v7h-7z"/><path fill="#a2e826" d="M281 990h7v7h-7z"/><path fill="#adeb27" d="M287 990h7v7h-7z"/><path fill="#b8ee28" d="M293 990h7v7h-7z"/><path fill="#c1f028" d="M299 990h7v7h-7z"/><path fill="#c6f029" d="M305 990h7v7h-7z"/><path fill="#ccf02a" d="M311 990h7v7h-7z"/><path fill="#d1f02b" d="M317 990h7v7h-7z"/><path fill="#3cbb35" d="M137 996h7v7h-7z"/><path fill="#3dbb34" d="M143 996h7v7h-7z"/><path fill="#3dbb33" d="M149 996h7v7h-7z"/><path fill="#3dbb31" d="M155 996h7v7h-7z"/><path fill="#3ebb30" d="M161 996h7v7h-7z"/><path fill="#3ebb2f" d="M167 996h7v7h-7z"/><path fill="#3fbc2d" d="M173 996h7v7h-7z"/><path fill="#3fbc2c" d="M179 996h7v7h-7z"/><path fill="#3fbc2a" d="M185 996h7v7h-7z"/><path fill="#40bc28" d="M191 996h7v7h-7z"/><path fill="#45bf27" d="M197 996h7v7h-7z"/><path fill="#4bc326" d="M203 996h7v7h-7z"/><path fill="#52c726" d="M209 996h7v7h-7z"/><path fill="#58cb25" d="M215 996h7v7h-7z"/><path fill="#60cf24" d="M221 996h7v7h-7z"/><path fill="#65d323" d="M227 996h7v7h-7z"/><path fill="#68d423" d="M233 996h7v7h-7z"/><path fill="#6ad523" d="M239 996h7v7h-7z"/><path fill="#6dd723" d="M245 996h7v7h-7z"/><path fill="#70d823" d="M251 996h7v7h-7z"/><path fill="#73da23" d="M257 996h7v7h-7z"/><path fill="#7fdd24" d="M263 996h7v7h-7z"/><path fill="#8be125" d="M269 996h7v7h-7z"/><path fill="#97e425" d="M275 996h7v7h-7z"/><path fill="#a3e826" d="M281 996h7v7h-7z"/><path fill="#aeeb27" d="M287 996h7v7h-7z"/><path fill="#baef28" d="M293 996h7v7h-7z"/><path fill="#c2f029" d="M299 996h7v7h-7z"/><path fill="#c8f02a" d="M305 996h7v7h-7z"/><path fill="#cef02b" d="M311 996h7v7h-7z"/><path fill="#d4f02c" d="M317 996h7v7h-7z"/><path fill="#d9f02c" d="M323 996h7v7h-7z"/><path fill="#3cbb37" d="M137 1002h7v7h-7z"/><path fill="#3cbb36" d="M143 1002h7v7h-7z"/><path fill="#3dbb34" d="M149 1002h7v7h-7z"/><path fill="#3dbb33" d="M155 1002h7v7h-7z"/><path fill="#3dbb32" d="M161 1002h7v7h-7z"/><path fill="#3ebb30" d="M167 1002h7v7h-7z"/><path fill="#3ebb2f" d="M173 1002h7v7h-7z"/><path fill="#3fbc2d" d="M179 1002h7v7h-7z"/><path fill="#3fbc2c" d="M185 1002h7v7h-7z"/><path fill="#3fbc2a" d="M191 1002h7v7h-7z"/><path fill="#40bc28" d="M197 1002h7v7h-7z"/><path fill="#46c027" d="M203 1002h7v7h-7z"/><path fill="#4dc426" d="M209 1002h7v7h-7z"/><path fill="#54c825" d="M215 1002h7v7h-7z"/><path fill="#5bcc24" d="M221 1002h7v7h-7z"/><path fill="#63d123" d="M227 1002h7v7h-7z"/><path fill="#66d323" d="M233 1002h7v7h-7z"/><path fill="#69d523" d="M239 1002h7v7h-7z"/><path fill="#6cd623" d="M245 1002h7v7h-7z"/><path fill="#6fd823" d="M251 1002h7v7h-7z"/><path fill="#72da23" d="M257 1002h7v7h-7z"/><path fill="#7ddd24" d="M263 1002h7v7h-7z"/><path fill="#8ae125" d="M269 1002h7v7h-7z"/><path fill="#96e425" d="M275 1002h7v7h-7z"/><path fill="#a3e826" d="M281 1002h7v7h-7z"/><path fill="#b0ec27" d="M287 1002h7v7h-7z"/><path fill="#bdf028" d="M293 1002h7v7h-7z"/><path fill="#c4f029" d="M299 1002h7v7h-7z"/><path fill="#caf02a" d="M305 1002h7v7h-7z"/><path fill="#d0f02b" d="M311 1002h7v7h-7z"/><path fill="#d6f02c" d="M317 1002h7v7h-7z"/><path fill="#dcf02d" d="M323 1002h7v7h-7z"/><path fill="#e1f02e" d="M329 1002h7v7h-7z"/><path fill="#3cbb38" d="M137 1008h7v7h-7z"/><path fill="#3cbb37" d="M143 1008h7v7h-7z"/><path fill="#3cbb36" d="M149 1008h7v7h-7z"/><path fill="#3cbb35" d="M155 1008h7v7h-7z"/><path fill="#3dbb34" d="M161 1008h7v7h-7z"/><path fill="#3dbb32" d="M167 1008h7v7h-7z"/><path fill="#3ebb31" d="M173 1008h7v7h-7z"/><path fill="#3ebb2f" d="M179 1008h7v7h-7z"/><path fill="#3ebb2e" d="M185 1008h7v7h-7z"/><path fill="#3fbc2c" d="M191 1008h7v7h-7z"/><path fill="#3fbc2a" d="M197 1008h7v7h-7z"/><path fill="#40bc28" d="M203 1008h7v7h-7z"/><path fill="#47c027" d="M209 1008h7v7h-7z"/><path fill="#4ec526" d="M215 1008h7v7h-7z"/><path fill="#56c925" d="M221 1008h7v7h-7z"/><path fill="#5ece24" d="M227 1008h7v7h-7z"/><path fill="#65d223" d="M233 1008h7v7h-7z"/><path fill="#68d423" d="M239 1008h7v7h-7z"/><path fill="#6bd623" d="M245 1008h7v7h-7z"/><path fill="#6ed723" d="M251 1008h7v7h-7z"/><path fill="#72d923" d="M257 1008h7v7h-7z"/><path fill="#7bdc24" d="M263 1008h7v7h-7z"/><path fill="#88e024" d="M269 1008h7v7h-7z"/><path fill="#96e425" d="M275 1008h7v7h-7z"/><path fill="#a4e826" d="M281 1008h7v7h-7z"/><path fill="#b2ec27" d="M287 1008h7v7h-7z"/><path fill="#bff028" d="M293 1008h7v7h-7z"/><path fill="#c5f029" d="M299 1008h7v7h-7z"/><path fill="#ccf02a" d="M305 1008h7v7h-7z"/><path fill="#d2f02b" d="M311 1008h7v7h-7z"/><path fill="#d9f02c" d="M317 1008h7v7h-7z"/><path fill="#dff02d" d="M323 1008h7v7h-7z"/><path fill="#e5f02e" d="M329 1008h7v7h-7z"/><path fill="#eaf02f" d="M335 1008h7v7h-7z"/><path fill="#eff030" d="M341 1008h7v7h-7z"/><path fill="#3bba3a" d="M137 1014h7v7h-7z"/><path fill="#3bba39" d="M143 1014h7v7h-7z"/><path fill="#3cbb38" d="M149 1014h7v7h-7z"/><path fill="#3cbb37" d="M155 1014h7v7h-7z"/><path fill="#3cbb36" d="M161 1014h7v7h-7z"/><path fill="#3dbb34" d="M167 1014h7v7h-7z"/><path fill="#3dbb33" d="M173 1014h7v7h-7z"/><path fill="#3dbb31" d="M179 1014h7v7h-7z"/><path fill="#3ebb30" d="M185 1014h7v7h-7z"/><path fill="#3ebb2e" d="M191 1014h7v7h-7z"/><path fill="#3fbc2c" d="M197 1014h7v7h-7z"/><path fill="#3fbc2a" d="M203 1014h7v7h-7z"/><path fill="#40bc28" d="M209 1014h7v7h-7z"/><path fill="#48c127" d="M215 1014h7v7h-7z"/><path fill="#50c626" d="M221 1014h7v7h-7z"/><path fill="#58cb25" d="M227 1014h7v7h-7z"/><path fill="#61d023" d="M233 1014h7v7h-7z"/><path fill="#66d323" d="M239 1014h7v7h-7z"/><path fill="#6ad523" d="M245 1014h7v7h-7z"/><path fill="#6dd723" d="M251 1014h7v7h-7z"/><path fill="#71d923" d="M257 1014h7v7h-7z"/><path fill="#78dc23" d="M263 1014h7v7h-7z"/><path fill="#87e024" d="M269 1014h7v7h-7z"/><path fill="#96e425" d="M275 1014h7v7h-7z"/><path fill="#a5e926" d="M281 1014h7v7h-7z"/><path fill="#b4ed27" d="M287 1014h7v7h-7z"/><path fill="#c0f028" d="M293 1014h7v7h-7z"/><path fill="#c7f02a" d="M299 1014h7v7h-7z"/><path fill="#cff02b" d="M305 1014h7v7h-7z"/><path fill="#d5f02c" d="M311 1014h7v7h-7z"/><path fill="#dcf02d" d="M317 1014h7v7h-7z"/><path fill="#e2f02e" d="M323 1014h7v7h-7z"/><path fill="#e8f02f" d="M329 1014h7v7h-7z"/><path fill="#eef030" d="M335 1014h7v7h-7z"/><path fill="#f3f031" d="M341 1014h7v7h-7z"/><path fill="#f8f032" d="M347 1014h7v7h-7z"/><path fill="#3aba3c" d="M137 1020h7v7h-7z"/><path fill="#3bba3c" d="M143 1020h7v7h-7z"/><path fill="#3bba3a" d="M149 1020h7v7h-7z"/><path fill="#3bba39" d="M155 1020h7v7h-7z"/><path fill="#3cbb38" d="M161 1020h7v7h-7z"/><path fill="#3cbb37" d="M167 1020h7v7h-7z"/><path fill="#3cbb35" d="M173 1020h7v7h-7z"/><path fill="#3dbb34" d="M179 1020h7v7h-7z"/><path fill="#3dbb32" d="M185 1020h7v7h-7z"/><path fill="#3ebb30" d="M191 1020h7v7h-7z"/><path fill="#3ebb2e" d="M197 1020h7v7h-7z"/><path fill="#3fbc2c" d="M203 1020h7v7h-7z"/><path fill="#3fbc2a" d="M209 1020h7v7h-7z"/><path fill="#41bd28" d="M215 1020h7v7h-7z"/><path fill="#49c227" d="M221 1020h7v7h-7z"/><path fill="#52c726" d="M227 1020h7v7h-7z"/><path fill="#5bcd24" d="M233 1020h7v7h-7z"/><path fill="#64d223" d="M239 1020h7v7h-7z"/><path fill="#68d423" d="M245 1020h7v7h-7z"/><path fill="#6cd623" d="M251 1020h7v7h-7z"/><path fill="#70d823" d="M257 1020h7v7h-7z"/><path fill="#75db23" d="M263 1020h7v7h-7z"/><path fill="#85df24" d="M269 1020h7v7h-7z"/><path fill="#96e425" d="M275 1020h7v7h-7z"/><path fill="#a6e926" d="M281 1020h7v7h-7z"/><path fill="#b6ee27" d="M287 1020h7v7h-7z"/><path fill="#c2f029" d="M293 1020h7v7h-7z"/><path fill="#caf02a" d="M299 1020h7v7h-7z"/><path fill="#d1f02b" d="M305 1020h7v7h-7z"/><path fill="#d9f02c" d="M311 1020h7v7h-7z"/><path fill="#e0f02e" d="M317 1020h7v7h-7z"/><path fill="#e6f02f" d="M323 1020h7v7h-7z"/><path fill="#edf030" d="M329 1020h7v7h-7z"/><path fill="#f2f031" d="M335 1020h7v7h-7z"/><path fill="#f8f032" d="M341 1020h7v7h-7z"/><path fill="#faec31" d="M347 1020h7v7h-7z"/><path fill="#fae730" d="M353 1020h7v7h-7z"/><path fill="#3aba40" d="M137 1026h7v7h-7z"/><path fill="#3aba3e" d="M143 1026h7v7h-7z"/><path fill="#3aba3d" d="M149 1026h7v7h-7z"/><path fill="#3bba3c" d="M155 1026h7v7h-7z"/><path fill="#3bba3a" d="M161 1026h7v7h-7z"/><path fill="#3bba39" d="M167 1026h7v7h-7z"/><path fill="#3cbb38" d="M173 1026h7v7h-7z"/><path fill="#3cbb36" d="M179 1026h7v7h-7z"/><path fill="#3dbb34" d="M185 1026h7v7h-7z"/><path fill="#3dbb33" d="M191 1026h7v7h-7z"/><path fill="#3ebb31" d="M197 1026h7v7h-7z"/><path fill="#3ebb2f" d="M203 1026h7v7h-7z"/><path fill="#3fbc2c" d="M209 1026h7v7h-7z"/><path fill="#3fbc2a" d="M215 1026h7v7h-7z"/><path fill="#42bd28" d="M221 1026h7v7h-7z"/><path fill="#4bc326" d="M227 1026h7v7h-7z"/><path fill="#55c925" d="M233 1026h7v7h-7z"/><path fill="#5fcf24" d="M239 1026h7v7h-7z"/><path fill="#66d323" d="M245 1026h7v7h-7z"/><path fill="#6ad523" d="M251 1026h7v7h-7z"/><path fill="#6ed823" d="M257 1026h7v7h-7z"/><path fill="#73da23" d="M263 1026h7v7h-7z"/><path fill="#83df24" d="M269 1026h7v7h-7z"/><path fill="#95e425" d="M275 1026h7v7h-7z"/><path fill="#a7e926" d="M281 1026h7v7h-7z"/><path fill="#b9ee28" d="M287 1026h7v7h-7z"/><path fill="#c4f029" d="M293 1026h7v7h-7z"/><path fill="#cdf02a" d="M299 1026h7v7h-7z"/><path fill="#d5f02c" d="M305 1026h7v7h-7z"/><path fill="#ddf02d" d="M311 1026h7v7h-7z"/><path fill="#e4f02e" d="M317 1026h7v7h-7z"/><path fill="#ebf030" d="M323 1026h7v7h-7z"/><path fill="#f2f031" d="M329 1026h7v7h-7z"/><path fill="#f8f032" d="M335 1026h7v7h-7z"/><path fill="#faec31" d="M341 1026h7v7h-7z"/><path fill="#fae630" d="M347 1026h7v7h-7z"/><path fill="#fae02e" d="M353 1026h7v7h-7z"/><path fill="#fadb2d" d="M359 1026h7v7h-7z"/><path fill="#fad62c" d="M365 1026h7v7h-7z"/><path fill="#3abb48" d="M137 1032h7v7h-7z"/><path fill="#3abb45" d="M143 1032h7v7h-7z"/><path fill="#3abb42" d="M149 1032h7v7h-7z"/><path fill="#3aba3e" d="M155 1032h7v7h-7z"/><path fill="#3aba3d" d="M161 1032h7v7h-7z"/><path fill="#3bba3c" d="M167 1032h7v7h-7z"/><path fill="#3bba3a" d="M173 1032h7v7h-7z"/><path fill="#3bba39" d="M179 1032h7v7h-7z"/><path fill="#3cbb37" d="M185 1032h7v7h-7z"/><path fill="#3cbb35" d="M191 1032h7v7h-7z"/><path fill="#3dbb33" d="M197 1032h7v7h-7z"/><path fill="#3dbb31" d="M203 1032h7v7h-7z"/><path fill="#3ebb2f" d="M209 1032h7v7h-7z"/><path fill="#3fbc2d" d="M215 1032h7v7h-7z"/><path fill="#3fbc2a" d="M221 1032h7v7h-7z"/><path fill="#43be28" d="M227 1032h7v7h-7z"/><path fill="#4dc426" d="M233 1032h7v7h-7z"/><path fill="#58cb25" d="M239 1032h7v7h-7z"/><path fill="#64d223" d="M245 1032h7v7h-7z"/><path fill="#68d423" d="M251 1032h7v7h-7z"/><path fill="#6dd723" d="M257 1032h7v7h-7z"/><path fill="#72d923" d="M263 1032h7v7h-7z"/><path fill="#81de24" d="M269 1032h7v7h-7z"/><path fill="#95e425" d="M275 1032h7v7h-7z"/><path fill="#a8ea27" d="M281 1032h7v7h-7z"/><path fill="#bcef28" d="M287 1032h7v7h-7z"/><path fill="#c7f029" d="M293 1032h7v7h-7z"/><path fill="#d0f02b" d="M299 1032h7v7h-7z"/><path fill="#d9f02d" d="M305 1032h7v7h-7z"/><path fill="#e1f02e" d="M311 1032h7v7h-7z"/><path fill="#e9f02f" d="M317 1032h7v7h-7z"/><path fill="#f1f030" d="M323 1032h7v7h-7z"/><path fill="#f7f032" d="M329 1032h7v7h-7z"/><path fill="#faec31" d="M335 1032h7v7h-7z"/><path fill="#fae52f" d="M341 1032h7v7h-7z"/><path fill="#fadf2e" d="M347 1032h7v7h-7z"/><path fill="#fada2c" d="M353 1032h7v7h-7z"/><path fill="#fad52b" d="M359 1032h7v7h-7z"/><path fill="#fad02a" d="M365 1032h7v7h-7z"/><path fill="#facc29" d="M371 1032h7v7h-7z"/><path fill="#3abd51" d="M137 1038h7v7h-7z"/><path fill="#3abc4e" d="M143 1038h7v7h-7z"/><path fill="#3abc4b" d="M149 1038h7v7h-7z"/><path fill="#3abb47" d="M155 1038h7v7h-7z"/><path fill="#3abb43" d="M161 1038h7v7h-7z"/><path fill="#3aba3f" d="M167 1038h7v7h-7z"/><path fill="#3aba3d" d="M173 1038h7v7h-7z"/><path fill="#3bba3b" d="M179 1038h7v7h-7z"/><path fill="#3bba3a" d="M185 1038h7v7h-7z"/><path fill="#3cbb38" d="M191 1038h7v7h-7z"/><path fill="#3cbb36" d="M197 1038h7v7h-7z"/><path fill="#3dbb34" d="M203 1038h7v7h-7z"/><path fill="#3dbb32" d="M209 1038h7v7h-7z"/><path fill="#3ebb30" d="M215 1038h7v7h-7z"/><path fill="#3fbc2d" d="M221 1038h7v7h-7z"/><path fill="#3fbc2a" d="M227 1038h7v7h-7z"/><path fill="#44be27" d="M233 1038h7v7h-7z"/><path fill="#4fc526" d="M239 1038h7v7h-7z"/><path fill="#5ccd24" d="M245 1038h7v7h-7z"/><path fill="#66d323" d="M251 1038h7v7h-7z"/><path fill="#6bd623" d="M257 1038h7v7h-7z"/><path fill="#70d923" d="M263 1038h7v7h-7z"/><path fill="#7edd24" d="M269 1038h7v7h-7z"/><path fill="#94e425" d="M275 1038h7v7h-7z"/><path fill="#aaea27" d="M281 1038h7v7h-7z"/><path fill="#bff028" d="M287 1038h7v7h-7z"/><path fill="#caf02a" d="M293 1038h7v7h-7z"/><path fill="#d4f02c" d="M299 1038h7v7h-7z"/><path fill="#def02d" d="M305 1038h7v7h-7z"/><path fill="#e7f02f" d="M311 1038h7v7h-7z"/><path fill="#eff030" d="M317 1038h7v7h-7z"/><path fill="#f7f032" d="M323 1038h7v7h-7z"/><path fill="#faeb31" d="M329 1038h7v7h-7z"/><path fill="#fae42f" d="M335 1038h7v7h-7z"/><path fill="#fade2d" d="M341 1038h7v7h-7z"/><path fill="#fad82c" d="M347 1038h7v7h-7z"/><path fill="#fad22b" d="M353 1038h7v7h-7z"/><path fill="#facd29" d="M359 1038h7v7h-7z"/><path fill="#fac928" d="M365 1038h7v7h-7z"/><path fill="#fac227" d="M371 1038h7v7h-7z"/><path fill="#fabb25" d="M377 1038h7v7h-7z"/><path fill="#3abe57" d="M143 1044h7v7h-7z"/><path fill="#3abd54" d="M149 1044h7v7h-7z"/><path fill="#3abd51" d="M155 1044h7v7h-7z"/><path fill="#3abc4d" d="M161 1044h7v7h-7z"/><path fill="#3abc49" d="M167 1044h7v7h-7z"/><path fill="#3abb45" d="M173 1044h7v7h-7z"/><path fill="#3aba40" d="M179 1044h7v7h-7z"/><path fill="#3aba3d" d="M185 1044h7v7h-7z"/><path fill="#3bba3b" d="M191 1044h7v7h-7z"/><path fill="#3bba3a" d="M197 1044h7v7h-7z"/><path fill="#3cbb38" d="M203 1044h7v7h-7z"/><path fill="#3cbb36" d="M209 1044h7v7h-7z"/><path fill="#3dbb33" d="M215 1044h7v7h-7z"/><path fill="#3ebb30" d="M221 1044h7v7h-7z"/><path fill="#3fbc2d" d="M227 1044h7v7h-7z"/><path fill="#3fbc2a" d="M233 1044h7v7h-7z"/><path fill="#45bf27" d="M239 1044h7v7h-7z"/><path fill="#53c725" d="M245 1044h7v7h-7z"/><path fill="#65d128" d="M251 1044h7v7h-7z"/><path fill="#72d731" d="M257 1044h7v7h-7z"/><path fill="#76da2f" d="M263 1044h7v7h-7z"/><path fill="#7fdd2b" d="M269 1044h7v7h-7z"/><path fill="#94e426" d="M275 1044h7v7h-7z"/><path fill="#adeb27" d="M281 1044h7v7h-7z"/><path fill="#c2f029" d="M287 1044h7v7h-7z"/><path fill="#cef02b" d="M293 1044h7v7h-7z"/><path fill="#d9f02d" d="M299 1044h7v7h-7z"/><path fill="#e4f02e" d="M305 1044h7v7h-7z"/><path fill="#eef030" d="M311 1044h7v7h-7z"/><path fill="#f7f034" d="M317 1044h7v7h-7z"/><path fill="#faeb34" d="M323 1044h7v7h-7z"/><path fill="#fae331" d="M329 1044h7v7h-7z"/><path fill="#fadb2d" d="M335 1044h7v7h-7z"/><path fill="#fad52b" d="M341 1044h7v7h-7z"/><path fill="#facf2a" d="M347 1044h7v7h-7z"/><path fill="#faca28" d="M353 1044h7v7h-7z"/><path fill="#fac227" d="M359 1044h7v7h-7z"/><path fill="#fabb25" d="M365 1044h7v7h-7z"/><path fill="#fab424" d="M371 1044h7v7h-7z"/><path fill="#faad23" d="M377 1044h7v7h-7z"/><path fill="#faa822" d="M383 1044h7v7h-7z"/><path fill="#3abf61" d="M143 1050h7v7h-7z"/><path fill="#3abf5e" d="M149 1050h7v7h-7z"/><path fill="#3abe5b" d="M155 1050h7v7h-7z"/><path fill="#3abe58" d="M161 1050h7v7h-7z"/><path fill="#3abd54" d="M167 1050h7v7h-7z"/><path fill="#3abd50" d="M173 1050h7v7h-7z"/><path fill="#3abc4c" d="M179 1050h7v7h-7z"/><path fill="#3abb47" d="M185 1050h7v7h-7z"/><path fill="#3aba41" d="M191 1050h7v7h-7z"/><path fill="#3aba3d" d="M197 1050h7v7h-7z"/><path fill="#3bba3b" d="M203 1050h7v7h-7z"/><path fill="#3bba39" d="M209 1050h7v7h-7z"/><path fill="#3cbb37" d="M215 1050h7v7h-7z"/><path fill="#3dbb34" d="M221 1050h7v7h-7z"/><path fill="#3dbb31" d="M227 1050h7v7h-7z"/><path fill="#3ebb2e" d="M233 1050h7v7h-7z"/><path fill="#42bd2d" d="M239 1050h7v7h-7z"/><path fill="#52c434" d="M245 1050h7v7h-7z"/><path fill="#6ed143" d="M251 1050h7v7h-7z"/><path fill="#89dd56" d="M257 1050h7v7h-7z"/><path fill="#94e15e" d="M263 1050h7v7h-7z"/><path fill="#98e45b" d="M269 1050h7v7h-7z"/><path fill="#a8e951" d="M275 1050h7v7h-7z"/><path fill="#b7ee3c" d="M281 1050h7v7h-7z"/><path fill="#c6f02a" d="M287 1050h7v7h-7z"/><path fill="#d7f13d" d="M293 1050h7v7h-7z"/><path fill="#e6f357" d="M299 1050h7v7h-7z"/><path fill="#f2f570" d="M305 1050h7v7h-7z"/><path fill="#faf682" d="M311 1050h7v7h-7z"/><path fill="#fcf388" d="M317 1050h7v7h-7z"/><path fill="#fced85" d="M323 1050h7v7h-7z"/><path fill="#fce677" d="M329 1050h7v7h-7z"/><path fill="#fbdd61" d="M335 1050h7v7h-7z"/><path fill="#fbd246" d="M341 1050h7v7h-7z"/><path fill="#fac52e" d="M347 1050h7v7h-7z"/><path fill="#faba25" d="M353 1050h7v7h-7z"/><path fill="#fab224" d="M359 1050h7v7h-7z"/><path fill="#faab22" d="M365 1050h7v7h-7z"/><path fill="#faa521" d="M371 1050h7v7h-7z"/><path fill="#fa9f20" d="M377 1050h7v7h-7z"/><path fill="#fa9a1f" d="M383 1050h7v7h-7z"/><path fill="#fa951e" d="M389 1050h7v7h-7z"/><path fill="#fa8f1e" d="M395 1050h7v7h-7z"/><path fill="#3ac06b" d="M143 1056h7v7h-7z"/><path fill="#3ac068" d="M149 1056h7v7h-7z"/><path fill="#3ac066" d="M155 1056h7v7h-7z"/><path fill="#3abf63" d="M161 1056h7v7h-7z"/><path fill="#3abf60" d="M167 1056h7v7h-7z"/><path fill="#3abe5c" d="M173 1056h7v7h-7z"/><path fill="#3abe58" d="M179 1056h7v7h-7z"/><path fill="#3abd54" d="M185 1056h7v7h-7z"/><path fill="#3abc4f" d="M191 1056h7v7h-7z"/><path fill="#3abc4a" d="M197 1056h7v7h-7z"/><path fill="#3abb43" d="M203 1056h7v7h-7z"/><path fill="#3aba3e" d="M209 1056h7v7h-7z"/><path fill="#3bba3b" d="M215 1056h7v7h-7z"/><path fill="#3bba39" d="M221 1056h7v7h-7z"/><path fill="#3dbb36" d="M227 1056h7v7h-7z"/><path fill="#45be3a" d="M233 1056h7v7h-7z"/><path fill="#54c346" d="M239 1056h7v7h-7z"/><path fill="#68ca57" d="M245 1056h7v7h-7z"/><path fill="#84d66d" d="M251 1056h7v7h-7z"/><path fill="#a5e485" d="M257 1056h7v7h-7z"/><path fill="#bbec9b" d="M263 1056h7v7h-7z"/><path fill="#c1ee9e" d="M269 1056h7v7h-7z"/><path fill="#cdf29c" d="M275 1056h7v7h-7z"/><path fill="#d8f68e" d="M281 1056h7v7h-7z"/><path fill="#e3f78d" d="M287 1056h7v7h-7z"/><path fill="#f3fab8" d="M293 1056h7v7h-7z"/><path fill="#fbfcd6" d="M299 1056h7v7h-7z"/><path fill="#fefde7" d="M305 1056h7v7h-7z"/><path fill="#fffdee" d="M311 1056h7v7h-7z"/><path fill="#fffced" d="M317 1056h7v7h-7z"/><path fill="#fefae5" d="M323 1056h7v7h-7z"/><path fill="#fef5d3" d="M329 1056h7v7h-7z"/><path fill="#fdeab3" d="M335 1056h7v7h-7z"/><path fill="#fcd987" d="M341 1056h7v7h-7z"/><path fill="#fbc255" d="M347 1056h7v7h-7z"/><path fill="#faae2f" d="M353 1056h7v7h-7z"/><path fill="#faa221" d="M359 1056h7v7h-7z"/><path fill="#fa9b1f" d="M365 1056h7v7h-7z"/><path fill="#fa951e" d="M371 1056h7v7h-7z"/><path fill="#fa8e1e" d="M377 1056h7v7h-7z"/><path fill="#f9881e" d="M383 1056h7v7h-7z"/><path fill="#f9831e" d="M389 1056h7v7h-7z"/><path fill="#f97e1e" d="M395 1056h7v7h-7z"/><path fill="#f9791e" d="M401 1056h7v7h-7z"/><path fill="#3ac275" d="M143 1062h7v7h-7z"/><path fill="#3ac273" d="M149 1062h7v7h-7z"/><path fill="#3ac171" d="M155 1062h7v7h-7z"/><path fill="#3ac16e" d="M161 1062h7v7h-7z"/><path fill="#3ac16c" d="M167 1062h7v7h-7z"/><path fill="#3ac069" d="M173 1062h7v7h-7z"/><path fill="#3ac065" d="M179 1062h7v7h-7z"/><path fill="#3abf62" d="M185 1062h7v7h-7z"/><path fill="#3abf5e" d="M191 1062h7v7h-7z"/><path fill="#3abe59" d="M197 1062h7v7h-7z"/><path fill="#3abd54" d="M203 1062h7v7h-7z"/><path fill="#3abc4d" d="M209 1062h7v7h-7z"/><path fill="#3abb46" d="M215 1062h7v7h-7z"/><path fill="#3cbb40" d="M221 1062h7v7h-7z"/><path fill="#48bf49" d="M227 1062h7v7h-7z"/><path fill="#5bc558" d="M233 1062h7v7h-7z"/><path fill="#72ce6c" d="M239 1062h7v7h-7z"/><path fill="#8cd784" d="M245 1062h7v7h-7z"/><path fill="#a6e09c" d="M251 1062h7v7h-7z"/><path fill="#c3ebb6" d="M257 1062h7v7h-7z"/><path fill="#dcf5cd" d="M263 1062h7v7h-7z"/><path fill="#e7f8da" d="M269 1062h7v7h-7z"/><path fill="#f0fbe2" d="M275 1062h7v7h-7z"/><path fill="#f8fde9" d="M281 1062h7v7h-7z"/><path fill="#fefffa" d="M287 1062h7v7h-7z"/><path fill="#ffffff" d="M293 1062h7v7h-7z"/><path fill="#ffffff" d="M299 1062h7v7h-7z"/><path fill="#ffffff" d="M305 1062h7v7h-7z"/><path fill="#ffffff" d="M311 1062h7v7h-7z"/><path fill="#ffffff" d="M317 1062h7v7h-7z"/><path fill="#ffffff" d="M323 1062h7v7h-7z"/><path fill="#fffffe" d="M329 1062h7v7h-7z"/><path fill="#fff7eb" d="M335 1062h7v7h-7z"/><path fill="#fee7c4" d="M341 1062h7v7h-7z"/><path fill="#fdd197" d="M347 1062h7v7h-7z"/><path fill="#fcb768" d="M353 1062h7v7h-7z"/><path fill="#fa9e41" d="M359 1062h7v7h-7z"/><path fill="#f98a26" d="M365 1062h7v7h-7z"/><path fill="#f97f1e" d="M371 1062h7v7h-7z"/><path fill="#f9791e" d="M377 1062h7v7h-7z"/><path fill="#f8741e" d="M383 1062h7v7h-7z"/><path fill="#f8701e" d="M389 1062h7v7h-7z"/><path fill="#f86c1e" d="M395 1062h7v7h-7z"/><path fill="#f8681e" d="M401 1062h7v7h-7z"/><path fill="#f8651e" d="M407 1062h7v7h-7z"/><path fill="#3ac37f" d="M143 1068h7v7h-7z"/><path fill="#3ac37e" d="M149 1068h7v7h-7z"/><path fill="#3ac37c" d="M155 1068h7v7h-7z"/><path fill="#3ac37a" d="M161 1068h7v7h-7z"/><path fill="#3ac278" d="M167 1068h7v7h-7z"/><path fill="#3ac276" d="M173 1068h7v7h-7z"/><path fill="#3ac273" d="M179 1068h7v7h-7z"/><path fill="#3ac170" d="M185 1068h7v7h-7z"/><path fill="#3ac16d" d="M191 1068h7v7h-7z"/><path fill="#3ac069" d="M197 1068h7v7h-7z"/><path fill="#3ac065" d="M203 1068h7v7h-7z"/><path fill="#3abf60" d="M209 1068h7v7h-7z"/><path fill="#3fc05e" d="M215 1068h7v7h-7z"/><path fill="#4cc363" d="M221 1068h7v7h-7z"/><path fill="#61c96f" d="M227 1068h7v7h-7z"/><path fill="#7ad17f" d="M233 1068h7v7h-7z"/><path fill="#96da97" d="M239 1068h7v7h-7z"/><path fill="#b2e4b0" d="M245 1068h7v7h-7z"/><path fill="#ccedc9" d="M251 1068h7v7h-7z"/><path fill="#e2f5de" d="M257 1068h7v7h-7z"/><path fill="#f3fbf0" d="M263 1068h7v7h-7z"/><path fill="#fcfefb" d="M269 1068h7v7h-7z"/><path fill="#ffffff" d="M275 1068h7v7h-7z"/><path fill="#ffffff" d="M281 1068h7v7h-7z"/><path fill="#ffffff" d="M287 1068h7v7h-7z"/><path fill="#ffffff" d="M293 1068h7v7h-7z"/><path fill="#ffffff" d="M299 1068h7v7h-7z"/><path fill="#ffffff" d="M305 1068h7v7h-7z"/><path fill="#ffffff" d="M311 1068h7v7h-7z"/><path fill="#ffffff" d="M317 1068h7v7h-7z"/><path fill="#ffffff" d="M323 1068h7v7h-7z"/><path fill="#ffffff" d="M329 1068h7v7h-7z"/><path fill="#fffffe" d="M335 1068h7v7h-7z"/><path fill="#fef3e8" d="M341 1068h7v7h-7z"/><path fill="#fddcc0" d="M347 1068h7v7h-7z"/><path fill="#fcbd91" d="M353 1068h7v7h-7z"/><path fill="#fa9d62" d="M359 1068h7v7h-7z"/><path fill="#f9803b" d="M365 1068h7v7h-7z"/><path fill="#f86b23" d="M371 1068h7v7h-7z"/><path fill="#f7641e" d="M377 1068h7v7h-7z"/><path fill="#f7601e" d="M383 1068h7v7h-7z"/><path fill="#f75c1e" d="M389 1068h7v7h-7z"/><path fill="#f7591e" d="M395 1068h7v7h-7z"/><path fill="#f7561e" d="M401 1068h7v7h-7z"/><path fill="#f7541e" d="M407 1068h7v7h-7z"/><path fill="#f7511e" d="M413 1068h7v7h-7z"/><path fill="#f64f1e" d="M419 1068h7v7h-7z"/><path fill="#3cc293" d="M143 1074h7v7h-7z"/><path fill="#3cc290" d="M149 1074h7v7h-7z"/><path fill="#3bc38e" d="M155 1074h7v7h-7z"/><path fill="#3bc38b" d="M161 1074h7v7h-7z"/><path fill="#3ac487" d="M167 1074h7v7h-7z"/><path fill="#3ac484" d="M173 1074h7v7h-7z"/><path fill="#3ac482" d="M179 1074h7v7h-7z"/><path fill="#3ac380" d="M185 1074h7v7h-7z"/><path fill="#3ac37d" d="M191 1074h7v7h-7z"/><path fill="#3ac37b" d="M197 1074h7v7h-7z"/><path fill="#3ac277" d="M203 1074h7v7h-7z"/><path fill="#40c478" d="M209 1074h7v7h-7z"/><path fill="#50c87f" d="M215 1074h7v7h-7z"/><path fill="#66ce8c" d="M221 1074h7v7h-7z"/><path fill="#81d69c" d="M227 1074h7v7h-7z"/><path fill="#9edfaf" d="M233 1074h7v7h-7z"/><path fill="#bbe8c3" d="M239 1074h7v7h-7z"/><path fill="#d5f0d7" d="M245 1074h7v7h-7z"/><path fill="#eaf8ea" d="M251 1074h7v7h-7z"/><path fill="#f8fdf8" d="M257 1074h7v7h-7z"/><path fill="#ffffff" d="M263 1074h7v7h-7z"/><path fill="#ffffff" d="M269 1074h7v7h-7z"/><path fill="#ffffff" d="M275 1074h7v7h-7z"/><path fill="#ffffff" d="M281 1074h7v7h-7z"/><path fill="#ffffff" d="M287 1074h7v7h-7z"/><path fill="#ffffff" d="M293 1074h7v7h-7z"/><path fill="#ffffff" d="M299 1074h7v7h-7z"/><path fill="#ffffff" d="M305 1074h7v7h-7z"/><path fill="#ffffff" d="M311 1074h7v7h-7z"/><path fill="#ffffff" d="M317 1074h7v7h-7z"/><path fill="#ffffff" d="M323 1074h7v7h-7z"/><path fill="#ffffff" d="M329 1074h7v7h-7z"/><path fill="#ffffff" d="M335 1074h7v7h-7z"/><path fill="#fff5f1" d="M341 1074h7v7h-7z"/><path fill="#fdddce" d="M347 1074h7v7h-7z"/><path fill="#fcbca2" d="M353 1074h7v7h-7z"/><path fill="#fa9671" d="M359 1074h7v7h-7z"/><path fill="#f87246" d="M365 1074h7v7h-7z"/><path fill="#f75928" d="M371 1074h7v7h-7z"/><path fill="#f64e1e" d="M377 1074h7v7h-7z"/><path fill="#f64b1e" d="M383 1074h7v7h-7z"/><path fill="#f6481e" d="M389 1074h7v7h-7z"/><path fill="#f6461e" d="M395 1074h7v7h-7z"/><path fill="#f6441e" d="M401 1074h7v7h-7z"/><path fill="#f6431e" d="M407 1074h7v7h-7z"/><path fill="#f6411e" d="M413 1074h7v7h-7z"/><path fill="#f6401e" d="M419 1074h7v7h-7z"/><path fill="#f63f1e" d="M425 1074h7v7h-7z"/><path fill="#3fbeac" d="M149 1080h7v7h-7z"/><path fill="#3fbeab" d="M155 1080h7v7h-7z"/><path fill="#3fbea9" d="M161 1080h7v7h-7z"/><path fill="#3fbfa7" d="M167 1080h7v7h-7z"/><path fill="#3ebfa5" d="M173 1080h7v7h-7z"/><path fill="#3ebfa2" d="M179 1080h7v7h-7z"/><path fill="#3ec0a0" d="M185 1080h7v7h-7z"/><path fill="#3dc09c" d="M191 1080h7v7h-7z"/><path fill="#3dc199" d="M197 1080h7v7h-7z"/><path fill="#43c498" d="M203 1080h7v7h-7z"/><path fill="#52c99d" d="M209 1080h7v7h-7z"/><path fill="#69d1a5" d="M215 1080h7v7h-7z"/><path fill="#84dab2" d="M221 1080h7v7h-7z"/><path fill="#a2e3c3" d="M227 1080h7v7h-7z"/><path fill="#bfebd4" d="M233 1080h7v7h-7z"/><path fill="#d9f3e5" d="M239 1080h7v7h-7z"/><path fill="#eefaf3" d="M245 1080h7v7h-7z"/><path fill="#fbfefc" d="M251 1080h7v7h-7z"/><path fill="#ffffff" d="M257 1080h7v7h-7z"/><path fill="#ffffff" d="M263 1080h7v7h-7z"/><path fill="#ffffff" d="M269 1080h7v7h-7z"/><path fill="#ffffff" d="M275 1080h7v7h-7z"/><path fill="#ffffff" d="M281 1080h7v7h-7z"/><path fill="#ffffff" d="M287 1080h7v7h-7z"/><path fill="#ffffff" d="M293 1080h7v7h-7z"/><path fill="#ffffff" d="M299 1080h7v7h-7z"/><path fill="#ffffff" d="M305 1080h7v7h-7z"/><path fill="#ffffff" d="M311 1080h7v7h-7z"/><path fill="#ffffff" d="M317 1080h7v7h-7z"/><path fill="#ffffff" d="M323 1080h7v7h-7z"/><path fill="#ffffff" d="M329 1080h7v7h-7z"/><path fill="#fffffe" d="M335 1080h7v7h-7z"/><path fill="#fef0ed" d="M341 1080h7v7h-7z"/><path fill="#fdd2c9" d="M347 1080h7v7h-7z"/><path fill="#fbaa9b" d="M353 1080h7v7h-7z"/><path fill="#f9836e" d="M359 1080h7v7h-7z"/><path fill="#f86b53" d="M365 1080h7v7h-7z"/><path fill="#f64d32" d="M371 1080h7v7h-7z"/><path fill="#f53a1e" d="M377 1080h7v7h-7z"/><path fill="#f5381e" d="M383 1080h7v7h-7z"/><path fill="#f5371e" d="M389 1080h7v7h-7z"/><path fill="#f5361e" d="M395 1080h7v7h-7z"/><path fill="#f5351e" d="M401 1080h7v7h-7z"/><path fill="#f5341e" d="M407 1080h7v7h-7z"/><path fill="#f5331e" d="M413 1080h7v7h-7z"/><path fill="#f5331e" d="M419 1080h7v7h-7z"/><path fill="#f5321e" d="M425 1080h7v7h-7z"/><path fill="#f5321e" d="M431 1080h7v7h-7z"/><path fill="#43bac8" d="M149 1086h7v7h-7z"/><path fill="#43bac8" d="M155 1086h7v7h-7z"/><path fill="#43bac8" d="M161 1086h7v7h-7z"/><path fill="#43bac8" d="M167 1086h7v7h-7z"/><path fill="#43bac7" d="M173 1086h7v7h-7z"/><path fill="#43bac7" d="M179 1086h7v7h-7z"/><path fill="#43bac6" d="M185 1086h7v7h-7z"/><path fill="#43bac6" d="M191 1086h7v7h-7z"/><path fill="#48bcc7" d="M197 1086h7v7h-7z"/><path fill="#57c2cb" d="M203 1086h7v7h-7z"/><path fill="#6dcad1" d="M209 1086h7v7h-7z"/><path fill="#88d4d9" d="M215 1086h7v7h-7z"/><path fill="#a5dee2" d="M221 1086h7v7h-7z"/><path fill="#c1e9eb" d="M227 1086h7v7h-7z"/><path fill="#dbf2f3" d="M233 1086h7v7h-7z"/><path fill="#eff9fa" d="M239 1086h7v7h-7z"/><path fill="#fcfefe" d="M245 1086h7v7h-7z"/><path fill="#ffffff" d="M251 1086h7v7h-7z"/><path fill="#ffffff" d="M257 1086h7v7h-7z"/><path fill="#ffffff" d="M263 1086h7v7h-7z"/><path fill="#ffffff" d="M269 1086h7v7h-7z"/><path fill="#ffffff" d="M275 1086h7v7h-7z"/><path fill="#ffffff" d="M281 1086h7v7h-7z"/><path fill="#ffffff" d="M287 1086h7v7h-7z"/><path fill="#ffffff" d="M293 1086h7v7h-7z"/><path fill="#ffffff" d="M299 1086h7v7h-7z"/><path fill="#ffffff" d="M305 1086h7v7h-7z"/><path fill="#ffffff" d="M311 1086h7v7h-7z"/><path fill="#ffffff" d="M317 1086h7v7h-7z"/><path fill="#ffffff" d="M323 1086h7v7h-7z"/><path fill="#ffffff" d="M329 1086h7v7h-7z"/><path fill="#fffaf9" d="M335 1086h7v7h-7z"/><path fill="#fde1df" d="M341 1086h7v7h-7z"/><path fill="#fcbbb8" d="M347 1086h7v7h-7z"/><path fill="#fbadaa" d="M353 1086h7v7h-7z"/><path fill="#f98b87" d="M359 1086h7v7h-7z"/><path fill="#f75c55" d="M365 1086h7v7h-7z"/><path fill="#f5322a" d="M371 1086h7v7h-7z"/><path fill="#f4261e" d="M377 1086h7v7h-7z"/><path fill="#f4261e" d="M383 1086h7v7h-7z"/><path fill="#f4261e" d="M389 1086h7v7h-7z"/><path fill="#f4261e" d="M395 1086h7v7h-7z"/><path fill="#f4261e" d="M401 1086h7v7h-7z"/><path fill="#f4251e" d="M407 1086h7v7h-7z"/><path fill="#f4251e" d="M413 1086h7v7h-7z"/><path fill="#f4251e" d="M419 1086h7v7h-7z"/><path fill="#f4251e" d="M425 1086h7v7h-7z"/><path fill="#f4251e" d="M431 1086h7v7h-7z"/><path fill="#f4251e" d="M437 1086h7v7h-7z"/><path fill="#44b6d1" d="M149 1092h7v7h-7z"/><path fill="#44b6d2" d="M155 1092h7v7h-7z"/><path fill="#44b5d2" d="M161 1092h7v7h-7z"/><path fill="#44b5d2" d="M167 1092h7v7h-7z"/><path fill="#44b5d3" d="M173 1092h7v7h-7z"/><path fill="#44b5d3" d="M179 1092h7v7h-7z"/><path fill="#44b4d3" d="M185 1092h7v7h-7z"/><path fill="#48b6d5" d="M191 1092h7v7h-7z"/><path fill="#55bbd8" d="M197 1092h7v7h-7z"/><path fill="#6ac3dd" d="M203 1092h7v7h-7z"/><path fill="#84cde4" d="M209 1092h7v7h-7z"/><path fill="#a0d8ea" d="M215 1092h7v7h-7z"/><path fill="#bde4f1" d="M221 1092h7v7h-7z"/><path fill="#d7eef7" d="M227 1092h7v7h-7z"/><path fill="#edf7fb" d="M233 1092h7v7h-7z"/><path fill="#fbfdfe" d="M239 1092h7v7h-7z"/><path fill="#ffffff" d="M245 1092h7v7h-7z"/><path fill="#ffffff" d="M251 1092h7v7h-7z"/><path fill="#ffffff" d="M257 1092h7v7h-7z"/><path fill="#ffffff" d="M263 1092h7v7h-7z"/><path fill="#ffffff" d="M269 1092h7v7h-7z"/><path fill="#ffffff" d="M275 1092h7v7h-7z"/><path fill="#ffffff" d="M281 1092h7v7h-7z"/><path fill="#ffffff" d="M287 1092h7v7h-7z"/><path fill="#ffffff" d="M293 1092h7v7h-7z"/><path fill="#ffffff" d="M299 1092h7v7h-7z"/><path fill="#ffffff" d="M305 1092h7v7h-7z"/><path fill="#ffffff" d="M311 1092h7v7h-7z"/><path fill="#ffffff" d="M317 1092h7v7h-7z"/><path fill="#ffffff" d="M323 1092h7v7h-7z"/><path fill="#fffdfd" d="M329 1092h7v7h-7z"/><path fill="#fee8e7" d="M335 1092h7v7h-7z"/><path fill="#fdd2d2" d="M341 1092h7v7h-7z"/><path fill="#fccdcd" d="M347 1092h7v7h-7z"/><path fill="#fbaeae" d="M353 1092h7v7h-7z"/><path fill="#f87675" d="M359 1092h7v7h-7z"/><path fill="#f53c3a" d="M365 1092h7v7h-7z"/><path fill="#f4211e" d="M371 1092h7v7h-7z"/><path fill="#f4211e" d="M377 1092h7v7h-7z"/><path fill="#f4211e" d="M383 1092h7v7h-7z"/><path fill="#f4211e" d="M389 1092h7v7h-7z"/><path fill="#f4211e" d="M395 1092h7v7h-7z"/><path fill="#f4221e" d="M401 1092h7v7h-7z"/><path fill="#f4221e" d="M407 1092h7v7h-7z"/><path fill="#f4221e" d="M413 1092h7v7h-7z"/><path fill="#f4221e" d="M419 1092h7v7h-7z"/><path fill="#f4221e" d="M425 1092h7v7h-7z"/><path fill="#f4221e" d="M431 1092h7v7h-7z"/><path fill="#f4221e" d="M437 1092h7v7h-7z"/><path fill="#f4221e" d="M443 1092h7v7h-7z"/><path fill="#f4221e" d="M449 1092h7v7h-7z"/><path fill="#45b2d7" d="M149 1098h7v7h-7z"/><path fill="#45b2d7" d="M155 1098h7v7h-7z"/><path fill="#45b1d8" d="M161 1098h7v7h-7z"/><path fill="#45b1d9" d="M167 1098h7v7h-7z"/><path fill="#45b0d9" d="M173 1098h7v7h-7z"/><path fill="#45b0da" d="M179 1098h7v7h-7z"/><path fill="#46b0db" d="M185 1098h7v7h-7z"/><path fill="#51b3de" d="M191 1098h7v7h-7z"/><path fill="#63bbe2" d="M197 1098h7v7h-7z"/><path fill="#7cc5e8" d="M203 1098h7v7h-7z"/><path fill="#97d0ee" d="M209 1098h7v7h-7z"/><path fill="#b4ddf3" d="M215 1098h7v7h-7z"/><path fill="#cee8f8" d="M221 1098h7v7h-7z"/><path fill="#e5f3fc" d="M227 1098h7v7h-7z"/><path fill="#f6fbfe" d="M233 1098h7v7h-7z"/><path fill="#feffff" d="M239 1098h7v7h-7z"/><path fill="#ffffff" d="M245 1098h7v7h-7z"/><path fill="#ffffff" d="M251 1098h7v7h-7z"/><path fill="#ffffff" d="M257 1098h7v7h-7z"/><path fill="#ffffff" d="M263 1098h7v7h-7z"/><path fill="#ffffff" d="M269 1098h7v7h-7z"/><path fill="#ffffff" d="M275 1098h7v7h-7z"/><path fill="#ffffff" d="M281 1098h7v7h-7z"/><path fill="#ffffff" d="M287 1098h7v7h-7z"/><path fill="#ffffff" d="M293 1098h7v7h-7z"/><path fill="#ffffff" d="M299 1098h7v7h-7z"/><path fill="#ffffff" d="M305 1098h7v7h-7z"/><path fill="#ffffff" d="M311 1098h7v7h-7z"/><path fill="#ffffff" d="M317 1098h7v7h-7z"/><path fill="#fffcfc" d="M323 1098h7v7h-7z"/><path fill="#fee4e5" d="M329 1098h7v7h-7z"/><path fill="#fdd2d2" d="M335 1098h7v7h-7z"/><path fill="#fdd2d2" d="M341 1098h7v7h-7z"/><path fill="#fcbfbf" d="M347 1098h7v7h-7z"/><path fill="#f88485" d="M353 1098h7v7h-7z"/><path fill="#f54243" d="M359 1098h7v7h-7z"/><path fill="#f31f1f" d="M365 1098h7v7h-7z"/><path fill="#f31f1f" d="M371 1098h7v7h-7z"/><path fill="#f31f1f" d="M377 1098h7v7h-7z"/><path fill="#f31f1f" d="M383 1098h7v7h-7z"/><path fill="#f31f1f" d="M389 1098h7v7h-7z"/><path fill="#f3201f" d="M395 1098h7v7h-7z"/><path fill="#f3201f" d="M401 1098h7v7h-7z"/><path fill="#f3201f" d="M407 1098h7v7h-7z"/><path fill="#f3201f" d="M413 1098h7v7h-7z"/><path fill="#f3201f" d="M419 1098h7v7h-7z"/><path fill="#f3201f" d="M425 1098h7v7h-7z"/><path fill="#f3201f" d="M431 1098h7v7h-7z"/><path fill="#f3201f" d="M437 1098h7v7h-7z"/><path fill="#f4211e" d="M443 1098h7v7h-7z"/><path fill="#f4211e" d="M449 1098h7v7h-7z"/><path fill="#f4211e" d="M455 1098h7v7h-7z"/><path fill="#45addd" d="M155 1104h7v7h-7z"/><path fill="#45adde" d="M161 1104h7v7h-7z"/><path fill="#45acdf" d="M167 1104h7v7h-7z"/><path fill="#45ace0" d="M173 1104h7v7h-7z"/><path fill="#45abe1" d="M179 1104h7v7h-7z"/><path fill="#4bade3" d="M185 1104h7v7h-7z"/><path fill="#5bb3e7" d="M191 1104h7v7h-7z"/><path fill="#70bceb" d="M197 1104h7v7h-7z"/><path fill="#8ac7f0" d="M203 1104h7v7h-7z"/><path fill="#a6d4f5" d="M209 1104h7v7h-7z"/><path fill="#c1e0f9" d="M215 1104h7v7h-7z"/><path fill="#d9ecfc" d="M221 1104h7v7h-7z"/><path fill="#edf5fe" d="M227 1104h7v7h-7z"/><path fill="#fafcff" d="M233 1104h7v7h-7z"/><path fill="#ffffff" d="M239 1104h7v7h-7z"/><path fill="#ffffff" d="M245 1104h7v7h-7z"/><path fill="#ffffff" d="M251 1104h7v7h-7z"/><path fill="#ffffff" d="M257 1104h7v7h-7z"/><path fill="#ffffff" d="M263 1104h7v7h-7z"/><path fill="#ffffff" d="M269 1104h7v7h-7z"/><path fill="#ffffff" d="M275 1104h7v7h-7z"/><path fill="#ffffff" d="M281 1104h7v7h-7z"/><path fill="#ffffff" d="M287 1104h7v7h-7z"/><path fill="#ffffff" d="M293 1104h7v7h-7z"/><path fill="#ffffff" d="M299 1104h7v7h-7z"/><path fill="#ffffff" d="M305 1104h7v7h-7z"/><path fill="#ffffff" d="M311 1104h7v7h-7z"/><path fill="#fef6f6" d="M317 1104h7v7h-7z"/><path fill="#fcd2d5" d="M323 1104h7v7h-7z"/><path fill="#fcd1d3" d="M329 1104h7v7h-7z"/><path fill="#fcd1d2" d="M335 1104h7v7h-7z"/><path fill="#fbbdbf" d="M341 1104h7v7h-7z"/><path fill="#f87f82" d="M347 1104h7v7h-7z"/><path fill="#f43c40" d="M353 1104h7v7h-7z"/><path fill="#f31c20" d="M359 1104h7v7h-7z"/><path fill="#f31c1f" d="M365 1104h7v7h-7z"/><path fill="#f31d1f" d="M371 1104h7v7h-7z"/><path fill="#f31d1f" d="M377 1104h7v7h-7z"/><path fill="#f31d1f" d="M383 1104h7v7h-7z"/><path fill="#f31e1f" d="M389 1104h7v7h-7z"/><path fill="#f31e1f" d="M395 1104h7v7h-7z"/><path fill="#f31e1f" d="M401 1104h7v7h-7z"/><path fill="#f31e1f" d="M407 1104h7v7h-7z"/><path fill="#f31e1f" d="M413 1104h7v7h-7z"/><path fill="#f31f1f" d="M419 1104h7v7h-7z"/><path fill="#f31f1f" d="M425 1104h7v7h-7z"/><path fill="#f31f1f" d="M431 1104h7v7h-7z"/><path fill="#f31f1f" d="M437 1104h7v7h-7z"/><path fill="#f31f1f" d="M443 1104h7v7h-7z"/><path fill="#f31f1f" d="M449 1104h7v7h-7z"/><path fill="#f3201f" d="M455 1104h7v7h-7z"/><path fill="#45aae3" d="M155 1110h7v7h-7z"/><path fill="#45a9e4" d="M161 1110h7v7h-7z"/><path fill="#45a8e5" d="M167 1110h7v7h-7z"/><path fill="#45a7e6" d="M173 1110h7v7h-7z"/><path fill="#47a7e8" d="M179 1110h7v7h-7z"/><path fill="#52abeb" d="M185 1110h7v7h-7z"/><path fill="#64b2ee" d="M191 1110h7v7h-7z"/><path fill="#7abcf2" d="M197 1110h7v7h-7z"/><path fill="#94c8f6" d="M203 1110h7v7h-7z"/><path fill="#aed3f8" d="M209 1110h7v7h-7z"/><path fill="#c6dffb" d="M215 1110h7v7h-7z"/><path fill="#dceafc" d="M221 1110h7v7h-7z"/><path fill="#eef4fe" d="M227 1110h7v7h-7z"/><path fill="#fafcff" d="M233 1110h7v7h-7z"/><path fill="#ffffff" d="M239 1110h7v7h-7z"/><path fill="#ffffff" d="M245 1110h7v7h-7z"/><path fill="#ffffff" d="M251 1110h7v7h-7z"/><path fill="#ffffff" d="M257 1110h7v7h-7z"/><path fill="#ffffff" d="M263 1110h7v7h-7z"/><path fill="#ffffff" d="M269 1110h7v7h-7z"/><path fill="#ffffff" d="M275 1110h7v7h-7z"/><path fill="#ffffff" d="M281 1110h7v7h-7z"/><path fill="#ffffff" d="M287 1110h7v7h-7z"/><path fill="#ffffff" d="M293 1110h7v7h-7z"/><path fill="#ffffff" d="M299 1110h7v7h-7z"/><path fill="#fffcfd" d="M305 1110h7v7h-7z"/><path fill="#fddee2" d="M311 1110h7v7h-7z"/><path fill="#fcd1d5" d="M317 1110h7v7h-7z"/><path fill="#fcd1d4" d="M323 1110h7v7h-7z"/><path fill="#fcced1" d="M329 1110h7v7h-7z"/><path fill="#faa9ae" d="M335 1110h7v7h-7z"/><path fill="#f6686f" d="M341 1110h7v7h-7z"/><path fill="#f32c35" d="M347 1110h7v7h-7z"/><path fill="#f21921" d="M353 1110h7v7h-7z"/><path fill="#f21920" d="M359 1110h7v7h-7z"/><path fill="#f21a20" d="M365 1110h7v7h-7z"/><path fill="#f21a20" d="M371 1110h7v7h-7z"/><path fill="#f21b20" d="M377 1110h7v7h-7z"/><path fill="#f21b20" d="M383 1110h7v7h-7z"/><path fill="#f31c1f" d="M389 1110h7v7h-7z"/><path fill="#f31c1f" d="M395 1110h7v7h-7z"/><path fill="#f31c1f" d="M401 1110h7v7h-7z"/><path fill="#f31d1f" d="M407 1110h7v7h-7z"/><path fill="#f31d1f" d="M413 1110h7v7h-7z"/><path fill="#f31d1f" d="M419 1110h7v7h-7z"/><path fill="#f31d1f" d="M425 1110h7v7h-7z"/><path fill="#f31e1f" d="M431 1110h7v7h-7z"/><path fill="#f31e1f" d="M437 1110h7v7h-7z"/><path fill="#f31e1f" d="M443 1110h7v7h-7z"/><path fill="#f31e1f" d="M449 1110h7v7h-7z"/><path fill="#f31e1f" d="M455 1110h7v7h-7z"/><path fill="#46a6e8" d="M155 1116h7v7h-7z"/><path fill="#46a5e9" d="M161 1116h7v7h-7z"/><path fill="#46a4eb" d="M167 1116h7v7h-7z"/><path fill="#46a3ec" d="M173 1116h7v7h-7z"/><path fill="#4aa3ef" d="M179 1116h7v7h-7z"/><path fill="#57a8f1" d="M185 1116h7v7h-7z"/><path fill="#68aef3" d="M191 1116h7v7h-7z"/><path fill="#7db6f5" d="M197 1116h7v7h-7z"/><path fill="#95c0f7" d="M203 1116h7v7h-7z"/><path fill="#adccf9" d="M209 1116h7v7h-7z"/><path fill="#c5d9fb" d="M215 1116h7v7h-7z"/><path fill="#dae5fc" d="M221 1116h7v7h-7z"/><path fill="#ebf0fe" d="M227 1116h7v7h-7z"/><path fill="#f7f9fe" d="M233 1116h7v7h-7z"/><path fill="#fefeff" d="M239 1116h7v7h-7z"/><path fill="#ffffff" d="M245 1116h7v7h-7z"/><path fill="#ffffff" d="M251 1116h7v7h-7z"/><path fill="#ffffff" d="M257 1116h7v7h-7z"/><path fill="#ffffff" d="M263 1116h7v7h-7z"/><path fill="#ffffff" d="M269 1116h7v7h-7z"/><path fill="#ffffff" d="M275 1116h7v7h-7z"/><path fill="#ffffff" d="M281 1116h7v7h-7z"/><path fill="#ffffff" d="M287 1116h7v7h-7z"/><path fill="#fffbfd" d="M293 1116h7v7h-7z"/><path fill="#fde4ec" d="M299 1116h7v7h-7z"/><path fill="#fabfcd" d="M305 1116h7v7h-7z"/><path fill="#fccad2" d="M311 1116h7v7h-7z"/><path fill="#fbc7cd" d="M317 1116h7v7h-7z"/><path fill="#faafb7" d="M323 1116h7v7h-7z"/><path fill="#f77f8a" d="M329 1116h7v7h-7z"/><path fill="#f44553" d="M335 1116h7v7h-7z"/><path fill="#f11c2b" d="M341 1116h7v7h-7z"/><path fill="#f11826" d="M347 1116h7v7h-7z"/><path fill="#f21824" d="M353 1116h7v7h-7z"/><path fill="#f21823" d="M359 1116h7v7h-7z"/><path fill="#f21922" d="M365 1116h7v7h-7z"/><path fill="#f21921" d="M371 1116h7v7h-7z"/><path fill="#f21920" d="M377 1116h7v7h-7z"/><path fill="#f21920" d="M383 1116h7v7h-7z"/><path fill="#f21a20" d="M389 1116h7v7h-7z"/><path fill="#f21a20" d="M395 1116h7v7h-7z"/><path fill="#f21b20" d="M401 1116h7v7h-7z"/><path fill="#f21b20" d="M407 1116h7v7h-7z"/><path fill="#f21b20" d="M413 1116h7v7h-7z"/><path fill="#f31c1f" d="M419 1116h7v7h-7z"/><path fill="#f31c1f" d="M425 1116h7v7h-7z"/><path fill="#f31c1f" d="M431 1116h7v7h-7z"/><path fill="#f31d1f" d="M437 1116h7v7h-7z"/><path fill="#f31d1f" d="M443 1116h7v7h-7z"/><path fill="#f31d1f" d="M449 1116h7v7h-7z"/><path fill="#46a1ef" d="M161 1122h7v7h-7z"/><path fill="#469ff0" d="M167 1122h7v7h-7z"/><path fill="#449bf0" d="M173 1122h7v7h-7z"/><path fill="#4899f0" d="M179 1122h7v7h-7z"/><path fill="#539cf2" d="M185 1122h7v7h-7z"/><path fill="#64a2f3" d="M191 1122h7v7h-7z"/><path fill="#79abf5" d="M197 1122h7v7h-7z"/><path fill="#8fb6f7" d="M203 1122h7v7h-7z"/><path fill="#a7c2f9" d="M209 1122h7v7h-7z"/><path fill="#bdcffa" d="M215 1122h7v7h-7z"/><path fill="#d0dcfc" d="M221 1122h7v7h-7z"/><path fill="#e1e7fd" d="M227 1122h7v7h-7z"/><path fill="#eef1fe" d="M233 1122h7v7h-7z"/><path fill="#f7f7fe" d="M239 1122h7v7h-7z"/><path fill="#fcfcff" d="M245 1122h7v7h-7z"/><path fill="#fefeff" d="M251 1122h7v7h-7z"/><path fill="#ffffff" d="M257 1122h7v7h-7z"/><path fill="#ffffff" d="M263 1122h7v7h-7z"/><path fill="#fffeff" d="M269 1122h7v7h-7z"/><path fill="#fefbfe" d="M275 1122h7v7h-7z"/><path fill="#fcf0f9" d="M281 1122h7v7h-7z"/><path fill="#f8d9ec" d="M287 1122h7v7h-7z"/><path fill="#f6b4d4" d="M293 1122h7v7h-7z"/><path fill="#f58cb4" d="M299 1122h7v7h-7z"/><path fill="#f799b5" d="M305 1122h7v7h-7z"/><path fill="#f791a8" d="M311 1122h7v7h-7z"/><path fill="#f6748a" d="M317 1122h7v7h-7z"/><path fill="#f3495e" d="M323 1122h7v7h-7z"/><path fill="#f12239" d="M329 1122h7v7h-7z"/><path fill="#f1172d" d="M335 1122h7v7h-7z"/><path fill="#f1172b" d="M341 1122h7v7h-7z"/><path fill="#f11829" d="M347 1122h7v7h-7z"/><path fill="#f11827" d="M353 1122h7v7h-7z"/><path fill="#f11826" d="M359 1122h7v7h-7z"/><path fill="#f11825" d="M365 1122h7v7h-7z"/><path fill="#f21824" d="M371 1122h7v7h-7z"/><path fill="#f21923" d="M377 1122h7v7h-7z"/><path fill="#f21922" d="M383 1122h7v7h-7z"/><path fill="#f21921" d="M389 1122h7v7h-7z"/><path fill="#f21920" d="M395 1122h7v7h-7z"/><path fill="#f21920" d="M401 1122h7v7h-7z"/><path fill="#f21a20" d="M407 1122h7v7h-7z"/><path fill="#f21a20" d="M413 1122h7v7h-7z"/><path fill="#f21a20" d="M419 1122h7v7h-7z"/><path fill="#f21b20" d="M425 1122h7v7h-7z"/><path fill="#f21b20" d="M431 1122h7v7h-7z"/><path fill="#4296f0" d="M161 1128h7v7h-7z"/><path fill="#4092f0" d="M167 1128h7v7h-7z"/><path fill="#3e8df0" d="M173 1128h7v7h-7z"/><path fill="#428cf1" d="M179 1128h7v7h-7z"/><path fill="#4d8ef2" d="M185 1128h7v7h-7z"/><path fill="#5d94f3" d="M191 1128h7v7h-7z"/><path fill="#709df4" d="M197 1128h7v7h-7z"/><path fill="#84a8f6" d="M203 1128h7v7h-7z"/><path fill="#99b4f8" d="M209 1128h7v7h-7z"/><path fill="#aec0f9" d="M215 1128h7v7h-7z"/><path fill="#c1ccfb" d="M221 1128h7v7h-7z"/><path fill="#d0d7fc" d="M227 1128h7v7h-7z"/><path fill="#dde0fd" d="M233 1128h7v7h-7z"/><path fill="#e6e7fd" d="M239 1128h7v7h-7z"/><path fill="#edecfd" d="M245 1128h7v7h-7z"/><path fill="#f0eefd" d="M251 1128h7v7h-7z"/><path fill="#f1ecfc" d="M257 1128h7v7h-7z"/><path fill="#f0e6fa" d="M263 1128h7v7h-7z"/><path fill="#efdaf5" d="M269 1128h7v7h-7z"/><path fill="#ecc6ec" d="M275 1128h7v7h-7z"/><path fill="#eaa6dd" d="M281 1128h7v7h-7z"/><path fill="#e679c1" d="M287 1128h7v7h-7z"/><path fill="#e74fa1" d="M293 1128h7v7h-7z"/><path fill="#ef5396" d="M299 1128h7v7h-7z"/><path fill="#f04a85" d="M305 1128h7v7h-7z"/><path fill="#f0356b" d="M311 1128h7v7h-7z"/><path fill="#ef1e4d" d="M317 1128h7v7h-7z"/><path fill="#ef163c" d="M323 1128h7v7h-7z"/><path fill="#f01632" d="M329 1128h7v7h-7z"/><path fill="#f01630" d="M335 1128h7v7h-7z"/><path fill="#f0172e" d="M341 1128h7v7h-7z"/><path fill="#f1172c" d="M347 1128h7v7h-7z"/><path fill="#f1172a" d="M353 1128h7v7h-7z"/><path fill="#f11829" d="M359 1128h7v7h-7z"/><path fill="#f11828" d="M365 1128h7v7h-7z"/><path fill="#f11826" d="M371 1128h7v7h-7z"/><path fill="#f11825" d="M377 1128h7v7h-7z"/><path fill="#f21824" d="M383 1128h7v7h-7z"/><path fill="#f21824" d="M389 1128h7v7h-7z"/><path fill="#f21923" d="M395 1128h7v7h-7z"/><path fill="#f21922" d="M401 1128h7v7h-7z"/><path fill="#f21921" d="M407 1128h7v7h-7z"/><path fill="#f21921" d="M413 1128h7v7h-7z"/><path fill="#3d8af0" d="M161 1134h7v7h-7z"/><path fill="#3d87f0" d="M167 1134h7v7h-7z"/><path fill="#3980f0" d="M173 1134h7v7h-7z"/><path fill="#3b7ef0" d="M179 1134h7v7h-7z"/><path fill="#4480f1" d="M185 1134h7v7h-7z"/><path fill="#5285f2" d="M191 1134h7v7h-7z"/><path fill="#628cf4" d="M197 1134h7v7h-7z"/><path fill="#7495f5" d="M203 1134h7v7h-7z"/><path fill="#87a0f7" d="M209 1134h7v7h-7z"/><path fill="#99aaf8" d="M215 1134h7v7h-7z"/><path fill="#a9b4f9" d="M221 1134h7v7h-7z"/><path fill="#b7bdfa" d="M227 1134h7v7h-7z"/><path fill="#c2c4fb" d="M233 1134h7v7h-7z"/><path fill="#cbcafb" d="M239 1134h7v7h-7z"/><path fill="#d1ccfa" d="M245 1134h7v7h-7z"/><path fill="#d3c7f8" d="M251 1134h7v7h-7z"/><path fill="#d2bef3" d="M257 1134h7v7h-7z"/><path fill="#d2aceb" d="M263 1134h7v7h-7z"/><path fill="#d293e0" d="M269 1134h7v7h-7z"/><path fill="#d174d1" d="M275 1134h7v7h-7z"/><path fill="#d34dbc" d="M281 1134h7v7h-7z"/><path fill="#d4259e" d="M287 1134h7v7h-7z"/><path fill="#dc1d8b" d="M293 1134h7v7h-7z"/><path fill="#e5197b" d="M299 1134h7v7h-7z"/><path fill="#eb146a" d="M305 1134h7v7h-7z"/><path fill="#ec155d" d="M311 1134h7v7h-7z"/><path fill="#ed1551" d="M317 1134h7v7h-7z"/><path fill="#ee1547" d="M323 1134h7v7h-7z"/><path fill="#ef163d" d="M329 1134h7v7h-7z"/><path fill="#f01634" d="M335 1134h7v7h-7z"/><path fill="#f01631" d="M341 1134h7v7h-7z"/><path fill="#f0172f" d="M347 1134h7v7h-7z"/><path fill="#f1172d" d="M353 1134h7v7h-7z"/><path fill="#f1172c" d="M359 1134h7v7h-7z"/><path fill="#f1172a" d="M365 1134h7v7h-7z"/><path fill="#f11829" d="M371 1134h7v7h-7z"/><path fill="#f11828" d="M377 1134h7v7h-7z"/><path fill="#f11827" d="M383 1134h7v7h-7z"/><path fill="#f11826" d="M389 1134h7v7h-7z"/><path fill="#f11825" d="M395 1134h7v7h-7z"/><path fill="#f21824" d="M401 1134h7v7h-7z"/><path fill="#377bf0" d="M167 1140h7v7h-7z"/><path fill="#3374f0" d="M173 1140h7v7h-7z"/><path fill="#3470f0" d="M179 1140h7v7h-7z"/><path fill="#3970f1" d="M185 1140h7v7h-7z"/><path fill="#4373f2" d="M191 1140h7v7h-7z"/><path fill="#5078f3" d="M197 1140h7v7h-7z"/><path fill="#607ff4" d="M203 1140h7v7h-7z"/><path fill="#6f86f5" d="M209 1140h7v7h-7z"/><path fill="#7e8ef6" d="M215 1140h7v7h-7z"/><path fill="#8b95f7" d="M221 1140h7v7h-7z"/><path fill="#969af8" d="M227 1140h7v7h-7z"/><path fill="#9e9ef8" d="M233 1140h7v7h-7z"/><path fill="#a9a1f6" d="M239 1140h7v7h-7z"/><path fill="#ab9bf3" d="M245 1140h7v7h-7z"/><path fill="#ab8fee" d="M251 1140h7v7h-7z"/><path fill="#ad7de5" d="M257 1140h7v7h-7z"/><path fill="#b063d8" d="M263 1140h7v7h-7z"/><path fill="#b447c8" d="M269 1140h7v7h-7z"/><path fill="#b92cb8" d="M275 1140h7v7h-7z"/><path fill="#c417a8" d="M281 1140h7v7h-7z"/><path fill="#cf149a" d="M287 1140h7v7h-7z"/><path fill="#d8148c" d="M293 1140h7v7h-7z"/><path fill="#e1147e" d="M299 1140h7v7h-7z"/><path fill="#e91471" d="M305 1140h7v7h-7z"/><path fill="#ec1465" d="M311 1140h7v7h-7z"/><path fill="#ed155a" d="M317 1140h7v7h-7z"/><path fill="#ed1550" d="M323 1140h7v7h-7z"/><path fill="#ee1547" d="M329 1140h7v7h-7z"/><path fill="#ef163e" d="M335 1140h7v7h-7z"/><path fill="#f01636" d="M341 1140h7v7h-7z"/><path fill="#f01631" d="M347 1140h7v7h-7z"/><path fill="#f0162f" d="M353 1140h7v7h-7z"/><path fill="#f0172e" d="M359 1140h7v7h-7z"/><path fill="#f1172d" d="M365 1140h7v7h-7z"/><path fill="#f1172b" d="M371 1140h7v7h-7z"/><path fill="#f1172a" d="M377 1140h7v7h-7z"/><path fill="#f11829" d="M383 1140h7v7h-7z"/><path fill="#316ff0" d="M167 1146h7v7h-7z"/><path fill="#2f69f0" d="M173 1146h7v7h-7z"/><path fill="#2c63f0" d="M179 1146h7v7h-7z"/><path fill="#2e60f0" d="M185 1146h7v7h-7z"/><path fill="#3560f1" d="M191 1146h7v7h-7z"/><path fill="#3f62f2" d="M197 1146h7v7h-7z"/><path fill="#4a65f3" d="M203 1146h7v7h-7z"/><path fill="#5569f3" d="M209 1146h7v7h-7z"/><path fill="#606df4" d="M215 1146h7v7h-7z"/><path fill="#696ff5" d="M221 1146h7v7h-7z"/><path fill="#7070f5" d="M227 1146h7v7h-7z"/><path fill="#7d75f3" d="M233 1146h7v7h-7z"/><path fill="#816eef" d="M239 1146h7v7h-7z"/><path fill="#8362ea" d="M245 1146h7v7h-7z"/><path fill="#8552e2" d="M251 1146h7v7h-7z"/><path fill="#8c3dd5" d="M257 1146h7v7h-7z"/><path fill="#9725c6" d="M263 1146h7v7h-7z"/><path fill="#a317b9" d="M269 1146h7v7h-7z"/><path fill="#b214b0" d="M275 1146h7v7h-7z"/><path fill="#c214a8" d="M281 1146h7v7h-7z"/><path fill="#cd149c" d="M287 1146h7v7h-7z"/><path fill="#d61490" d="M293 1146h7v7h-7z"/><path fill="#dd1483" d="M299 1146h7v7h-7z"/><path fill="#e51478" d="M305 1146h7v7h-7z"/><path fill="#eb146c" d="M311 1146h7v7h-7z"/><path fill="#ec1462" d="M317 1146h7v7h-7z"/><path fill="#ed1558" d="M323 1146h7v7h-7z"/><path fill="#ee154f" d="M329 1146h7v7h-7z"/><path fill="#ee1547" d="M335 1146h7v7h-7z"/><path fill="#ef163f" d="M341 1146h7v7h-7z"/><path fill="#f01637" d="M347 1146h7v7h-7z"/><path fill="#f01632" d="M353 1146h7v7h-7z"/><path fill="#f01630" d="M359 1146h7v7h-7z"/><path fill="#f0172f" d="M365 1146h7v7h-7z"/><path fill="#f1172d" d="M371 1146h7v7h-7z"/><path fill="#2d65f0" d="M167 1152h7v7h-7z"/><path fill="#2b60f0" d="M173 1152h7v7h-7z"/><path fill="#2858f0" d="M179 1152h7v7h-7z"/><path fill="#2752f0" d="M185 1152h7v7h-7z"/><path fill="#2a4ff0" d="M191 1152h7v7h-7z"/><path fill="#2f4df1" d="M197 1152h7v7h-7z"/><path fill="#354cf1" d="M203 1152h7v7h-7z"/><path fill="#3c4bf2" d="M209 1152h7v7h-7z"/><path fill="#424af2" d="M215 1152h7v7h-7z"/><path fill="#4748f3" d="M221 1152h7v7h-7z"/><path fill="#534af0" d="M227 1152h7v7h-7z"/><path fill="#5a46ec" d="M233 1152h7v7h-7z"/><path fill="#5e3ce7" d="M239 1152h7v7h-7z"/><path fill="#6330e0" d="M245 1152h7v7h-7z"/><path fill="#6d22d6" d="M251 1152h7v7h-7z"/><path fill="#7e17ca" d="M257 1152h7v7h-7z"/><path fill="#9514bf" d="M263 1152h7v7h-7z"/><path fill="#a414b7" d="M269 1152h7v7h-7z"/><path fill="#b314b0" d="M275 1152h7v7h-7z"/><path fill="#c114a8" d="M281 1152h7v7h-7z"/><path fill="#cc149f" d="M287 1152h7v7h-7z"/><path fill="#d41493" d="M293 1152h7v7h-7z"/><path fill="#db1488" d="M299 1152h7v7h-7z"/><path fill="#e2147d" d="M305 1152h7v7h-7z"/><path fill="#e81472" d="M311 1152h7v7h-7z"/><path fill="#eb1468" d="M317 1152h7v7h-7z"/><path fill="#ec145f" d="M323 1152h7v7h-7z"/><path fill="#ed1556" d="M329 1152h7v7h-7z"/><path fill="#ee154d" d="M335 1152h7v7h-7z"/><path fill="#ee1546" d="M341 1152h7v7h-7z"/><path fill="#ef163f" d="M347 1152h7v7h-7z"/><path fill="#ef1638" d="M353 1152h7v7h-7z"/><path fill="#2755f0" d="M173 1158h7v7h-7z"/><path fill="#2650f0" d="M179 1158h7v7h-7z"/><path fill="#2549f0" d="M185 1158h7v7h-7z"/><path fill="#2442f0" d="M191 1158h7v7h-7z"/><path fill="#243cf0" d="M197 1158h7v7h-7z"/><path fill="#2537f0" d="M203 1158h7v7h-7z"/><path fill="#2732f0" d="M209 1158h7v7h-7z"/><path fill="#292cf1" d="M215 1158h7v7h-7z"/><path fill="#322bef" d="M221 1158h7v7h-7z"/><path fill="#3c29ea" d="M227 1158h7v7h-7z"/><path fill="#4423e6" d="M233 1158h7v7h-7z"/><path fill="#4d1de0" d="M239 1158h7v7h-7z"/><path fill="#5a19da" d="M245 1158h7v7h-7z"/><path fill="#6f17d0" d="M251 1158h7v7h-7z"/><path fill="#8415c6" d="M257 1158h7v7h-7z"/><path fill="#9814bd" d="M263 1158h7v7h-7z"/><path fill="#a514b6" d="M269 1158h7v7h-7z"/><path fill="#b314b0" d="M275 1158h7v7h-7z"/><path fill="#c014a9" d="M281 1158h7v7h-7z"/><path fill="#cb14a0" d="M287 1158h7v7h-7z"/><path fill="#d21496" d="M293 1158h7v7h-7z"/><path fill="#d8148b" d="M299 1158h7v7h-7z"/><path fill="#df1481" d="M305 1158h7v7h-7z"/><path fill="#e51477" d="M311 1158h7v7h-7z"/><path fill="#eb146e" d="M317 1158h7v7h-7z"/><path fill="#ec1464" d="M323 1158h7v7h-7z"/><path fill="#ed155c" d="M329 1158h7v7h-7z"/><path fill="#ed1554" d="M335 1158h7v7h-7z"/><path fill="#264df0" d="M173 1164h7v7h-7z"/><path fill="#2547f0" d="M179 1164h7v7h-7z"/><path fill="#2441f0" d="M185 1164h7v7h-7z"/><path fill="#233af0" d="M191 1164h7v7h-7z"/><path fill="#2133f0" d="M197 1164h7v7h-7z"/><path fill="#202bf0" d="M203 1164h7v7h-7z"/><path fill="#1f23f0" d="M209 1164h7v7h-7z"/><path fill="#221eee" d="M215 1164h7v7h-7z"/><path fill="#2d1dea" d="M221 1164h7v7h-7z"/><path fill="#391ce6" d="M227 1164h7v7h-7z"/><path fill="#451ae2" d="M233 1164h7v7h-7z"/><path fill="#5119dd" d="M239 1164h7v7h-7z"/><path fill="#6218d6" d="M245 1164h7v7h-7z"/><path fill="#7517cd" d="M251 1164h7v7h-7z"/><path fill="#8915c4" d="M257 1164h7v7h-7z"/><path fill="#9a14bc" d="M263 1164h7v7h-7z"/><path fill="#a714b6" d="M269 1164h7v7h-7z"/><path fill="#b314af" d="M275 1164h7v7h-7z"/><path fill="#c014a9" d="M281 1164h7v7h-7z"/><path fill="#ca14a2" d="M287 1164h7v7h-7z"/><path fill="#d01498" d="M293 1164h7v7h-7z"/><path fill="#d7148e" d="M299 1164h7v7h-7z"/><path fill="#dd1484" d="M305 1164h7v7h-7z"/><path fill="#e3147b" d="M311 1164h7v7h-7z"/><path fill="#e91472" d="M317 1164h7v7h-7z"/><path fill="#eb1469" d="M323 1164h7v7h-7z"/><path fill="#243ff0" d="M179 1170h7v7h-7z"/><path fill="#2339f0" d="M185 1170h7v7h-7z"/><path fill="#2133f0" d="M191 1170h7v7h-7z"/><path fill="#202cf0" d="M197 1170h7v7h-7z"/><path fill="#1f24f0" d="M203 1170h7v7h-7z"/><path fill="#201eef" d="M209 1170h7v7h-7z"/><path fill="#2a1dec" d="M215 1170h7v7h-7z"/><path fill="#351ce8" d="M221 1170h7v7h-7z"/><path fill="#401be4" d="M227 1170h7v7h-7z"/><path fill="#4b1ae0" d="M233 1170h7v7h-7z"/><path fill="#5819db" d="M239 1170h7v7h-7z"/><path fill="#6a17d3" d="M245 1170h7v7h-7z"/><path fill="#7b16ca" d="M251 1170h7v7h-7z"/><path fill="#8e15c2" d="M257 1170h7v7h-7z"/><path fill="#9c14bb" d="M263 1170h7v7h-7z"/><path fill="#a814b5" d="M269 1170h7v7h-7z"/><path fill="#b314af" d="M275 1170h7v7h-7z"/><path fill="#bf14aa" d="M281 1170h7v7h-7z"/><path fill="#c914a3" d="M287 1170h7v7h-7z"/><path fill="#d01499" d="M293 1170h7v7h-7z"/><path fill="#d51490" d="M299 1170h7v7h-7z"/><path fill="#db1487" d="M305 1170h7v7h-7z"/><path fill="#2238f0" d="M179 1176h7v7h-7z"/><path fill="#2132f0" d="M185 1176h7v7h-7z"/><path fill="#202cf0" d="M191 1176h7v7h-7z"/><path fill="#1f25f0" d="M197 1176h7v7h-7z"/><path fill="#1f1ef0" d="M203 1176h7v7h-7z"/><path fill="#281dec" d="M209 1176h7v7h-7z"/><path fill="#321ce9" d="M215 1176h7v7h-7z"/><path fill="#3c1be5" d="M221 1176h7v7h-7z"/><path fill="#461ae1" d="M227 1176h7v7h-7z"/><path fill="#5119dd" d="M233 1176h7v7h-7z"/><path fill="#5f18d7" d="M239 1176h7v7h-7z"/><path fill="#7017d0" d="M245 1176h7v7h-7z"/><path fill="#8116c8" d="M251 1176h7v7h-7z"/><path fill="#9214c0" d="M257 1176h7v7h-7z"/><path fill="#9e14ba" d="M263 1176h7v7h-7z"/><path fill="#a914b5" d="M269 1176h7v7h-7z"/><path fill="#b414af" d="M275 1176h7v7h-7z"/><path fill="#bf14a9" d="M281 1176h7v7h-7z"/><path fill="#c914a3" d="M287 1176h7v7h-7z"/><path fill="#cf149a" d="M293 1176h7v7h-7z"/><path fill="#202cf0" d="M185 1182h7v7h-7z"/><path fill="#1f25f0" d="M191 1182h7v7h-7z"/><path fill="#1e1ff0" d="M197 1182h7v7h-7z"/><path fill="#261ded" d="M203 1182h7v7h-7z"/><path fill="#2f1cea" d="M209 1182h7v7h-7z"/><path fill="#381ce7" d="M215 1182h7v7h-7z"/><path fill="#421be3" d="M221 1182h7v7h-7z"/><path fill="#4c1adf" d="M227 1182h7v7h-7z"/><path fill="#5719db" d="M233 1182h7v7h-7z"/><path fill="#6618d4" d="M239 1182h7v7h-7z"/><path fill="#7517cd" d="M245 1182h7v7h-7z"/><path fill="#8515c6" d="M251 1182h7v7h-7z"/><path fill="#9614be" d="M257 1182h7v7h-7z"/><path fill="#a014b9" d="M263 1182h7v7h-7z"/><path fill="#aa14b4" d="M269 1182h7v7h-7z"/><path fill="#b414af" d="M275 1182h7v7h-7z"/><path fill="#1e1ff0" d="M191 1188h7v7h-7z"/><path fill="#241dee" d="M197 1188h7v7h-7z"/><path fill="#2c1deb" d="M203 1188h7v7h-7z"/><path fill="#351ce8" d="M209 1188h7v7h-7z"/><path fill="#3e1be4" d="M215 1188h7v7h-7z"/><path fill="#471ae1" d="M221 1188h7v7h-7z"/><path fill="#5119dd" d="M227 1188h7v7h-7z"/><path fill="#5d18d8" d="M233 1188h7v7h-7z"/><path fill="#6c17d2" d="M239 1188h7v7h-7z"/><path fill="#7b16ca" d="M245 1188h7v7h-7z"/><path fill="#8a15c3" d="M251 1188h7v7h-7z"/><path fill="#9814bd" d="M257 1188h7v7h-7z"/><path fill="#231eee" d="M191 1194h7v7h-7z"/><path fill="#2b1deb" d="M197 1194h7v7h-7z"/><path fill="#331ce8" d="M203 1194h7v7h-7z"/><path fill="#3b1be6" d="M209 1194h7v7h-7z"/><path fill="#431be2" d="M215 1194h7v7h-7z"/><path fill="#4c1adf" d="M221 1194h7v7h-7z"/><path fill="#5719db" d="M227 1194h7v7h-7z"/><path fill="#6418d5" d="M233 1194h7v7h-7z"/><path fill="#7217cf" d="M239 1194h7v7h-7z"/><path fill="#8116c8" d="M245 1194h7v7h-7z"/><path fill="#381ce6" d="M203 1200h7v7h-7z"/><path fill="#401be4" d="M209 1200h7v7h-7z"/><path fill="#491ae0" d="M215 1200h7v7h-7z"/><path fill="#5119dd" d="M221 1200h7v7h-7z"/><path fill="#5c18d9" d="M227 1200h7v7h-7z"/>
</g></g>
<path d="M159.3,923.3 C165.6,929.6 185.9,947.9 197.0,961.0 C208.1,974.0 217.8,989.0 226.0,1001.6 C234.2,1014.1 240.0,1025.0 246.3,1036.4 C252.6,1047.7 260.8,1064.1 263.7,1069.7M139.0,1024.8 C146.2,1028.1 168.0,1038.1 182.5,1045.1 C197.0,1052.1 214.4,1061.0 226.0,1066.8 C237.6,1072.6 247.7,1077.7 252.1,1079.9M292.1,984.2 C291.8,990.0 291.7,1006.2 290.3,1019.0 C289.0,1031.8 285.0,1054.0 284.0,1061.0M330.3,1015.5 L306.4,1052.3M345.0,1028.4 L321.1,1049.5M363.4,1041.3 L339.5,1054.1M378.1,1053.2 L346.9,1059.7M402.1,1068.8 C397.8,1068.2 384.9,1065.8 376.3,1065.2 C367.7,1064.6 354.9,1065.2 350.6,1065.2M230.1,1120.3 C229.2,1113.9 234.6,1105.0 238.4,1098.3 C242.2,1091.5 245.4,1086.3 253.1,1079.9 C260.8,1073.4 274.6,1064.4 284.4,1059.7 C294.2,1054.9 303.7,1052.8 311.9,1051.4 C320.2,1050.0 328.2,1050.0 334.0,1051.4 C339.8,1052.8 344.1,1056.4 346.9,1059.7 C349.6,1062.9 352.1,1067.6 350.6,1070.7 C349.0,1073.7 342.3,1075.6 337.7,1078.0 C333.1,1080.5 328.2,1081.7 323.0,1085.4 C317.8,1089.1 312.3,1094.6 306.4,1100.1 C300.6,1105.6 294.8,1112.7 288.0,1118.5 C281.3,1124.3 273.3,1132.0 266.0,1135.0 C258.6,1138.1 249.9,1139.3 243.9,1136.9 C237.9,1134.4 231.0,1126.8 230.1,1120.3ZM323.0,1085.4 C326.7,1083.6 337.7,1076.7 345.0,1074.4 C352.4,1072.1 362.4,1069.5 367.1,1071.6 C371.9,1073.7 373.5,1081.6 373.5,1087.2 C373.5,1092.9 371.3,1099.5 367.1,1105.6 C363.0,1111.8 357.3,1119.1 348.7,1124.0 C340.1,1128.9 326.7,1132.6 315.6,1135.0 C304.6,1137.5 288.0,1138.1 282.5,1138.7M319.3,1090.9 C327.3,1090.5 353.0,1088.5 367.1,1088.2 C381.2,1087.8 391.3,1087.4 403.9,1089.1 C416.5,1090.8 436.1,1096.7 442.5,1098.3M306.4,1101.0 L357.9,1116.7M363.4,1109.3 C368.3,1110.8 383.1,1115.1 392.9,1118.5 C402.7,1121.9 417.4,1127.7 422.3,1129.5M310.1,1135.0 C312.3,1136.9 319.6,1142.1 323.0,1146.1 C326.4,1150.1 329.1,1156.8 330.3,1159.0M278.8,1114.8 C279.3,1119.4 280.8,1132.3 281.6,1142.4 C282.4,1152.5 283.1,1170.0 283.4,1175.5M234.7,1125.9 C241.1,1120.5 262.0,1102.3 273.3,1093.7 C284.7,1085.1 293.2,1079.4 302.8,1074.4 C312.3,1069.3 322.7,1065.6 330.3,1063.3 C338.0,1061.0 345.7,1061.0 348.7,1060.6M230.3,1103.0 L160.7,1120.4M233.2,1130.6 L176.7,1163.9M239.0,1137.8 C235.9,1141.2 225.7,1149.4 220.2,1158.1 C214.6,1166.8 208.1,1184.7 205.7,1190.0M246.3,1139.3 C245.3,1143.4 241.4,1155.5 240.5,1163.9 C239.5,1172.4 240.5,1185.7 240.5,1190.0M237.6,1137.8 C235.6,1140.3 229.4,1146.5 226.0,1152.3 C222.6,1158.1 219.2,1165.9 217.3,1172.6 C215.3,1179.4 214.9,1189.5 214.4,1192.9" stroke="#1a2a1a" stroke-width="1.4" fill="none" opacity="0.85" clip-path="url(#loc)"/>
<path d="M166.9,914.0h8M241.7,943.6h8M303.2,988.5h8M364.0,1034.9h8M416.2,1074.0h8M443.8,1095.8h8M464.0,1109.4h8M164.0,1162.5h8" stroke="#e8eeee" stroke-width="2.2" opacity="0.85"/>
<path d="M179.3,1013.2h18.0M237.2,991.6h24.0M237.2,995.9h16.8M297.2,1018.3h20.0M297.2,1022.6h14.0M319.4,1028.5h22.0M319.4,1032.8h15.4M335.9,1042.2h18.0M349.3,1049.3h20.0M349.3,1053.6h14.0M353.7,1065.4h20.0M376.3,1080.1h24.0M376.3,1084.4h16.8M331.9,1080.7h26.0M331.9,1085.0h18.2M338.9,1100.1h12.0M380.4,1104.5h10.0M295.2,1117.8h24.0M295.2,1122.1h16.8M341.6,1129.9h24.0M341.6,1134.2h16.8M289.4,1148.8h24.0M289.4,1153.1h16.8M254.1,1152.9h22.0M198.7,1150.9h14.0M206.3,1173.4h22.0M206.3,1177.7h15.4M179.3,1070.5h18.0M179.3,1074.8h12.6M185.4,1122.7h26.0M185.4,1127.0h18.2" stroke="#10180e" stroke-width="1.6" stroke-dasharray="2.2 0.7 3.1 0.6 1.6 0.8" opacity="0.62"/>
<path d="M405.7,969.1H443.4M425,974H443.4M405.7,979H443.4M425,983.6H443.4M405.7,988.5H443.4M425,992.9H443.4M405.7,1001.6H443.4M425,1006.5H443.4M405.7,1011.1H443.4M425,1016.1H443.4" stroke="#e8eeee" stroke-width="1.6" stroke-dasharray="2.4 0.8 3 0.7 1.8 0.9" opacity="0.8"/>
<path d="M264,1093.5H284.4" stroke="#666" stroke-width="1.4" fill="none"/>
<path d="M273.8,1082V1105.8" stroke="#333" stroke-width="1.7" fill="none"/>
<g fill="#111"><circle cx="271.3" cy="1095.6" r="1.2"/><circle cx="284.4" cy="1088.8" r="1"/><circle cx="290.4" cy="1083.7" r="1"/><circle cx="329.8" cy="1063.3" r="1.1"/></g>
<text y="881.80" font-size="19.83"><tspan x="141.80" textLength="83.11" lengthAdjust="spacingAndGlyphs">CIE1931</tspan><tspan x="231.72" textLength="151.80" lengthAdjust="spacingAndGlyphs">CHROMATICITY</tspan><tspan x="390.33" textLength="94.29" lengthAdjust="spacingAndGlyphs">DIAGRAM</tspan></text>
<text y="894.30" font-size="19.83"><tspan x="122.80" textLength="11.46" lengthAdjust="spacingAndGlyphs">y</tspan></text>
<text y="1222.70" font-size="19.83"><tspan x="494.50" textLength="11.46" lengthAdjust="spacingAndGlyphs">x</tspan></text>
<text y="938.60" font-size="20.43"><tspan x="118.20" textLength="19.93" lengthAdjust="spacingAndGlyphs">.8</tspan></text>
<text y="1006.70" font-size="20.43"><tspan x="118.20" textLength="19.93" lengthAdjust="spacingAndGlyphs">.6</tspan></text>
<text y="1074.80" font-size="20.43"><tspan x="118.20" textLength="19.93" lengthAdjust="spacingAndGlyphs">.4</tspan></text>
<text y="1142.90" font-size="20.43"><tspan x="118.20" textLength="19.93" lengthAdjust="spacingAndGlyphs">.2</tspan></text>
<text y="1222.70" font-size="19.83"><tspan x="121.30" textLength="12.31" lengthAdjust="spacingAndGlyphs">0</tspan></text>
<text y="1222.70" font-size="19.83"><tspan x="160.50" textLength="31.66" lengthAdjust="spacingAndGlyphs">0.1</tspan></text>
<text y="1222.70" font-size="19.83"><tspan x="248.36" textLength="31.66" lengthAdjust="spacingAndGlyphs">0.3</tspan></text>
<text y="1222.70" font-size="19.83"><tspan x="336.22" textLength="31.66" lengthAdjust="spacingAndGlyphs">0.5</tspan></text>
<text y="1222.70" font-size="19.83"><tspan x="424.08" textLength="31.66" lengthAdjust="spacingAndGlyphs">0.7</tspan></text>
<path d="M600.9,878.5V1173.4M679.5,878.5V1173.4M758.0,878.5V1173.4M836.6,878.5V1173.4M915.2,878.5V1173.4M993.7,878.5V1173.4M1072.3,878.5V1173.4M1150.9,878.5V1173.4M1229.4,878.5V1173.4M1260.8,878.5V1173.4M600.9,1173.4H1260.8M600.9,1124.2H1260.8M600.9,1075.1H1260.8M600.9,1026.0H1260.8M600.9,976.8H1260.8M600.9,927.7H1260.8M600.9,878.5H1260.8" stroke="#c4c4c4" stroke-width="1.1" fill="none"/>
<linearGradient id="sp" gradientUnits="userSpaceOnUse" x1="663.8" y1="0" x2="1150.9" y2="0"><stop offset="0.0000" stop-color="#1c1c9c"/><stop offset="0.0484" stop-color="#1515d6"/><stop offset="0.0968" stop-color="#1616f4"/><stop offset="0.1290" stop-color="#1540f2"/><stop offset="0.1613" stop-color="#1488f0"/><stop offset="0.1871" stop-color="#12c0f2"/><stop offset="0.2097" stop-color="#10f4f4"/><stop offset="0.2355" stop-color="#10f4b8"/><stop offset="0.2677" stop-color="#10f270"/><stop offset="0.3226" stop-color="#12ee12"/><stop offset="0.3710" stop-color="#60f410"/><stop offset="0.4194" stop-color="#a4f810"/><stop offset="0.4839" stop-color="#fcfc14"/><stop offset="0.5161" stop-color="#ffcc12"/><stop offset="0.5548" stop-color="#ff9010"/><stop offset="0.5968" stop-color="#ff5010"/><stop offset="0.6452" stop-color="#fa1313"/><stop offset="0.7097" stop-color="#e61313"/><stop offset="0.7742" stop-color="#cc1414"/><stop offset="0.8548" stop-color="#a81414"/><stop offset="0.9032" stop-color="#8c1212"/><stop offset="0.9419" stop-color="#741010"/><stop offset="1.0000" stop-color="#500c0c"/></linearGradient>
<path d="M663.8,1173.4 C664.3,1173.1 665.8,1172.5 666.9,1171.4 C668.0,1170.3 669.0,1168.7 670.4,1166.8 C671.7,1164.8 673.2,1162.9 674.8,1159.9 C676.3,1156.9 677.4,1155.3 679.5,1148.8 C681.5,1142.3 684.4,1132.9 686.9,1120.8 C689.3,1108.8 691.9,1091.9 694.2,1076.6 C696.5,1061.3 698.8,1045.4 700.7,1028.9 C702.5,1012.4 703.8,991.7 705.2,977.3 C706.6,962.9 708.1,950.1 709.0,942.4 C709.9,934.7 710.4,933.8 710.9,931.3 C711.4,928.9 711.7,927.7 712.1,927.7 C712.6,927.7 712.7,928.0 713.4,931.3 C714.1,934.7 715.3,940.1 716.4,947.8 C717.5,955.5 718.8,966.2 720.0,977.3 C721.2,988.4 722.4,1004.3 723.6,1014.2 C724.8,1024.0 726.0,1029.8 727.4,1036.3 C728.8,1042.7 730.3,1047.8 731.9,1053.0 C733.6,1058.2 735.6,1062.0 737.4,1067.5 C739.3,1073.0 741.1,1080.4 742.9,1085.9 C744.8,1091.4 746.6,1096.6 748.4,1100.4 C750.3,1104.2 752.1,1107.1 753.9,1108.8 C755.8,1110.4 757.1,1110.5 759.6,1110.2 C762.1,1110.0 765.7,1108.7 768.7,1107.0 C771.8,1105.4 774.8,1102.7 777.8,1100.4 C780.9,1098.1 784.0,1095.7 787.1,1093.3 C790.2,1090.9 793.3,1088.1 796.4,1085.9 C799.4,1083.7 802.4,1081.8 805.5,1080.3 C808.5,1078.7 811.5,1077.5 814.6,1076.6 C817.7,1075.7 820.2,1075.4 823.9,1074.9 C827.5,1074.3 832.0,1073.8 836.6,1073.4 C841.2,1072.9 846.0,1072.4 851.5,1072.2 C857.1,1071.9 863.8,1071.9 869.9,1072.2 C876.0,1072.4 883.3,1073.3 888.3,1073.9 C893.3,1074.5 895.4,1075.1 899.9,1075.8 C904.4,1076.6 909.1,1076.9 915.2,1078.3 C921.3,1079.6 929.2,1082.2 936.5,1083.9 C943.9,1085.7 952.6,1087.3 959.2,1088.9 C965.8,1090.4 970.4,1091.5 976.1,1093.3 C981.8,1095.1 988.1,1097.3 993.3,1099.7 C998.4,1102.1 1002.6,1104.8 1007.2,1107.5 C1011.9,1110.2 1016.7,1113.1 1021.4,1115.9 C1026.1,1118.7 1030.8,1121.7 1035.5,1124.5 C1040.2,1127.3 1044.9,1130.0 1049.7,1132.9 C1054.4,1135.7 1059.1,1138.7 1063.8,1141.5 C1068.5,1144.2 1073.2,1146.9 1077.9,1149.1 C1082.7,1151.3 1087.4,1152.8 1092.1,1154.7 C1096.8,1156.6 1101.5,1158.5 1106.2,1160.4 C1110.9,1162.3 1115.7,1164.3 1120.4,1166.0 C1125.1,1167.8 1130.3,1169.7 1134.5,1170.8 C1138.8,1171.9 1143.1,1172.2 1145.8,1172.7 C1148.6,1173.1 1150.0,1173.3 1150.9,1173.4Z" fill="url(#sp)"/>
<pattern id="stp" patternUnits="userSpaceOnUse" x="600.90" y="0" width="1.5713" height="10"><rect x="0" y="0" width="0.45" height="10" fill="#300" opacity="0.16"/></pattern>
<clipPath id="spc"><rect x="930.9" y="878.5" width="227.8" height="294.9"/></clipPath>
<path d="M663.8,1173.4 C664.3,1173.1 665.8,1172.5 666.9,1171.4 C668.0,1170.3 669.0,1168.7 670.4,1166.8 C671.7,1164.8 673.2,1162.9 674.8,1159.9 C676.3,1156.9 677.4,1155.3 679.5,1148.8 C681.5,1142.3 684.4,1132.9 686.9,1120.8 C689.3,1108.8 691.9,1091.9 694.2,1076.6 C696.5,1061.3 698.8,1045.4 700.7,1028.9 C702.5,1012.4 703.8,991.7 705.2,977.3 C706.6,962.9 708.1,950.1 709.0,942.4 C709.9,934.7 710.4,933.8 710.9,931.3 C711.4,928.9 711.7,927.7 712.1,927.7 C712.6,927.7 712.7,928.0 713.4,931.3 C714.1,934.7 715.3,940.1 716.4,947.8 C717.5,955.5 718.8,966.2 720.0,977.3 C721.2,988.4 722.4,1004.3 723.6,1014.2 C724.8,1024.0 726.0,1029.8 727.4,1036.3 C728.8,1042.7 730.3,1047.8 731.9,1053.0 C733.6,1058.2 735.6,1062.0 737.4,1067.5 C739.3,1073.0 741.1,1080.4 742.9,1085.9 C744.8,1091.4 746.6,1096.6 748.4,1100.4 C750.3,1104.2 752.1,1107.1 753.9,1108.8 C755.8,1110.4 757.1,1110.5 759.6,1110.2 C762.1,1110.0 765.7,1108.7 768.7,1107.0 C771.8,1105.4 774.8,1102.7 777.8,1100.4 C780.9,1098.1 784.0,1095.7 787.1,1093.3 C790.2,1090.9 793.3,1088.1 796.4,1085.9 C799.4,1083.7 802.4,1081.8 805.5,1080.3 C808.5,1078.7 811.5,1077.5 814.6,1076.6 C817.7,1075.7 820.2,1075.4 823.9,1074.9 C827.5,1074.3 832.0,1073.8 836.6,1073.4 C841.2,1072.9 846.0,1072.4 851.5,1072.2 C857.1,1071.9 863.8,1071.9 869.9,1072.2 C876.0,1072.4 883.3,1073.3 888.3,1073.9 C893.3,1074.5 895.4,1075.1 899.9,1075.8 C904.4,1076.6 909.1,1076.9 915.2,1078.3 C921.3,1079.6 929.2,1082.2 936.5,1083.9 C943.9,1085.7 952.6,1087.3 959.2,1088.9 C965.8,1090.4 970.4,1091.5 976.1,1093.3 C981.8,1095.1 988.1,1097.3 993.3,1099.7 C998.4,1102.1 1002.6,1104.8 1007.2,1107.5 C1011.9,1110.2 1016.7,1113.1 1021.4,1115.9 C1026.1,1118.7 1030.8,1121.7 1035.5,1124.5 C1040.2,1127.3 1044.9,1130.0 1049.7,1132.9 C1054.4,1135.7 1059.1,1138.7 1063.8,1141.5 C1068.5,1144.2 1073.2,1146.9 1077.9,1149.1 C1082.7,1151.3 1087.4,1152.8 1092.1,1154.7 C1096.8,1156.6 1101.5,1158.5 1106.2,1160.4 C1110.9,1162.3 1115.7,1164.3 1120.4,1166.0 C1125.1,1167.8 1130.3,1169.7 1134.5,1170.8 C1138.8,1171.9 1143.1,1172.2 1145.8,1172.7 C1148.6,1173.1 1150.0,1173.3 1150.9,1173.4Z" fill="url(#stp)" clip-path="url(#spc)"/>
<path d="M663.8,1173.4 C664.3,1173.1 665.8,1172.5 666.9,1171.4 C668.0,1170.3 669.0,1168.7 670.4,1166.8 C671.7,1164.8 673.2,1162.9 674.8,1159.9 C676.3,1156.9 677.4,1155.3 679.5,1148.8 C681.5,1142.3 684.4,1132.9 686.9,1120.8 C689.3,1108.8 691.9,1091.9 694.2,1076.6 C696.5,1061.3 698.8,1045.4 700.7,1028.9 C702.5,1012.4 703.8,991.7 705.2,977.3 C706.6,962.9 708.1,950.1 709.0,942.4 C709.9,934.7 710.4,933.8 710.9,931.3 C711.4,928.9 711.7,927.7 712.1,927.7 C712.6,927.7 712.7,928.0 713.4,931.3 C714.1,934.7 715.3,940.1 716.4,947.8 C717.5,955.5 718.8,966.2 720.0,977.3 C721.2,988.4 722.4,1004.3 723.6,1014.2 C724.8,1024.0 726.0,1029.8 727.4,1036.3 C728.8,1042.7 730.3,1047.8 731.9,1053.0 C733.6,1058.2 735.6,1062.0 737.4,1067.5 C739.3,1073.0 741.1,1080.4 742.9,1085.9 C744.8,1091.4 746.6,1096.6 748.4,1100.4 C750.3,1104.2 752.1,1107.1 753.9,1108.8 C755.8,1110.4 757.1,1110.5 759.6,1110.2 C762.1,1110.0 765.7,1108.7 768.7,1107.0 C771.8,1105.4 774.8,1102.7 777.8,1100.4 C780.9,1098.1 784.0,1095.7 787.1,1093.3 C790.2,1090.9 793.3,1088.1 796.4,1085.9 C799.4,1083.7 802.4,1081.8 805.5,1080.3 C808.5,1078.7 811.5,1077.5 814.6,1076.6 C817.7,1075.7 820.2,1075.4 823.9,1074.9 C827.5,1074.3 832.0,1073.8 836.6,1073.4 C841.2,1072.9 846.0,1072.4 851.5,1072.2 C857.1,1071.9 863.8,1071.9 869.9,1072.2 C876.0,1072.4 883.3,1073.3 888.3,1073.9 C893.3,1074.5 895.4,1075.1 899.9,1075.8 C904.4,1076.6 909.1,1076.9 915.2,1078.3 C921.3,1079.6 929.2,1082.2 936.5,1083.9 C943.9,1085.7 952.6,1087.3 959.2,1088.9 C965.8,1090.4 970.4,1091.5 976.1,1093.3 C981.8,1095.1 988.1,1097.3 993.3,1099.7 C998.4,1102.1 1002.6,1104.8 1007.2,1107.5 C1011.9,1110.2 1016.7,1113.1 1021.4,1115.9 C1026.1,1118.7 1030.8,1121.7 1035.5,1124.5 C1040.2,1127.3 1044.9,1130.0 1049.7,1132.9 C1054.4,1135.7 1059.1,1138.7 1063.8,1141.5 C1068.5,1144.2 1073.2,1146.9 1077.9,1149.1 C1082.7,1151.3 1087.4,1152.8 1092.1,1154.7 C1096.8,1156.6 1101.5,1158.5 1106.2,1160.4 C1110.9,1162.3 1115.7,1164.3 1120.4,1166.0 C1125.1,1167.8 1130.3,1169.7 1134.5,1170.8 C1138.8,1171.9 1143.1,1172.2 1145.8,1172.7 C1148.6,1173.1 1150.0,1173.3 1150.9,1173.4" fill="none" stroke="#000" stroke-width="0.9" opacity="0.28"/>
<text y="1182.00" font-size="22.34"><tspan x="553.94" textLength="35.66" lengthAdjust="spacingAndGlyphs">0.0</tspan></text>
<text y="1132.85" font-size="22.34"><tspan x="553.94" textLength="35.66" lengthAdjust="spacingAndGlyphs">0.2</tspan></text>
<text y="1083.70" font-size="22.34"><tspan x="553.94" textLength="35.66" lengthAdjust="spacingAndGlyphs">0.4</tspan></text>
<text y="1034.55" font-size="22.34"><tspan x="553.94" textLength="35.66" lengthAdjust="spacingAndGlyphs">0.6</tspan></text>
<text y="985.40" font-size="22.34"><tspan x="553.94" textLength="35.66" lengthAdjust="spacingAndGlyphs">0.8</tspan></text>
<text y="936.25" font-size="22.34"><tspan x="553.94" textLength="35.66" lengthAdjust="spacingAndGlyphs">1.0</tspan></text>
<text y="887.10" font-size="22.34"><tspan x="553.94" textLength="35.66" lengthAdjust="spacingAndGlyphs">1.2</tspan></text>
<text y="1209.90" font-size="22.34"><tspan x="580.10" textLength="41.59" lengthAdjust="spacingAndGlyphs">380</tspan></text>
<text y="1209.90" font-size="22.34"><tspan x="658.67" textLength="41.59" lengthAdjust="spacingAndGlyphs">430</tspan></text>
<text y="1209.90" font-size="22.34"><tspan x="737.23" textLength="41.59" lengthAdjust="spacingAndGlyphs">480</tspan></text>
<text y="1209.90" font-size="22.34"><tspan x="815.80" textLength="41.59" lengthAdjust="spacingAndGlyphs">530</tspan></text>
<text y="1209.90" font-size="22.34"><tspan x="894.36" textLength="41.59" lengthAdjust="spacingAndGlyphs">580</tspan></text>
<text y="1209.90" font-size="22.34"><tspan x="972.93" textLength="41.59" lengthAdjust="spacingAndGlyphs">630</tspan></text>
<text y="1209.90" font-size="22.34"><tspan x="1051.49" textLength="41.59" lengthAdjust="spacingAndGlyphs">680</tspan></text>
<text y="1209.90" font-size="22.34"><tspan x="1130.06" textLength="41.59" lengthAdjust="spacingAndGlyphs">730</tspan></text>
<text y="1209.90" font-size="22.34"><tspan x="1208.62" textLength="41.59" lengthAdjust="spacingAndGlyphs">780</tspan></text>
</svg></body></html>
